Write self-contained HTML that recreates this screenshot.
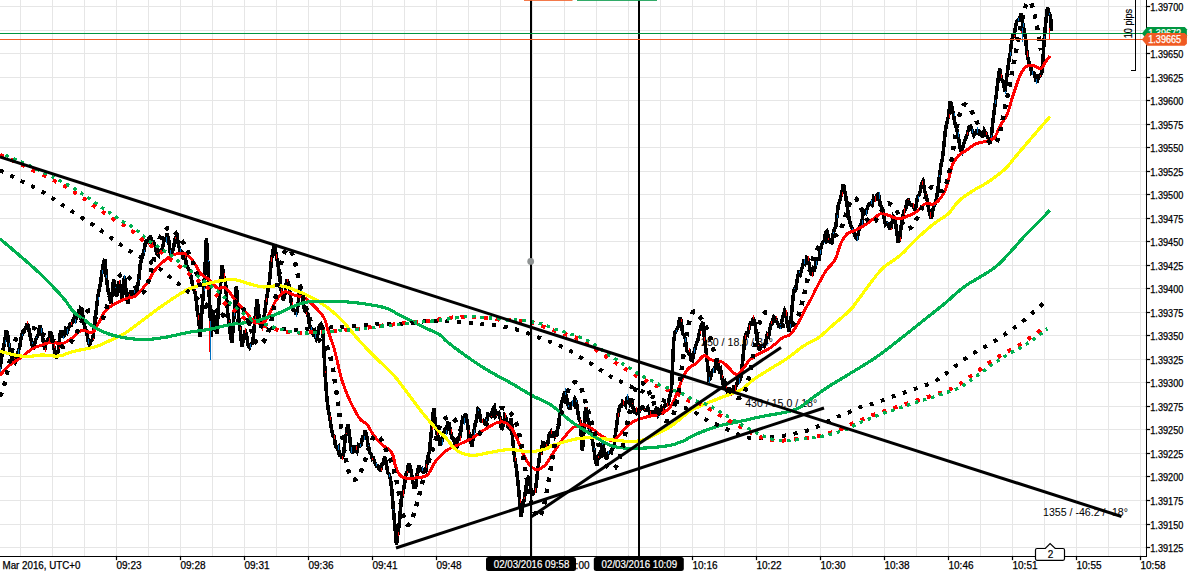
<!DOCTYPE html>
<html><head><meta charset="utf-8"><title>Chart</title>
<style>html,body{margin:0;padding:0;background:#fff;overflow:hidden}svg{display:block}</style>
</head><body>
<svg width="1192" height="572" viewBox="0 0 1192 572">
<rect width="1192" height="572" fill="#fff"/>
<g stroke="#e6e6e6" stroke-width="1" shape-rendering="crispEdges"><line x1="20.5" y1="0" x2="20.5" y2="556"/><line x1="52.5" y1="0" x2="52.5" y2="556"/><line x1="84.5" y1="0" x2="84.5" y2="556"/><line x1="116.5" y1="0" x2="116.5" y2="556"/><line x1="148.5" y1="0" x2="148.5" y2="556"/><line x1="180.5" y1="0" x2="180.5" y2="556"/><line x1="212.5" y1="0" x2="212.5" y2="556"/><line x1="244.5" y1="0" x2="244.5" y2="556"/><line x1="276.5" y1="0" x2="276.5" y2="556"/><line x1="308.5" y1="0" x2="308.5" y2="556"/><line x1="340.5" y1="0" x2="340.5" y2="556"/><line x1="372.5" y1="0" x2="372.5" y2="556"/><line x1="404.5" y1="0" x2="404.5" y2="556"/><line x1="436.5" y1="0" x2="436.5" y2="556"/><line x1="468.5" y1="0" x2="468.5" y2="556"/><line x1="500.5" y1="0" x2="500.5" y2="556"/><line x1="532.5" y1="0" x2="532.5" y2="556"/><line x1="564.5" y1="0" x2="564.5" y2="556"/><line x1="596.5" y1="0" x2="596.5" y2="556"/><line x1="628.5" y1="0" x2="628.5" y2="556"/><line x1="660.5" y1="0" x2="660.5" y2="556"/><line x1="692.5" y1="0" x2="692.5" y2="556"/><line x1="724.5" y1="0" x2="724.5" y2="556"/><line x1="756.5" y1="0" x2="756.5" y2="556"/><line x1="788.5" y1="0" x2="788.5" y2="556"/><line x1="820.5" y1="0" x2="820.5" y2="556"/><line x1="852.5" y1="0" x2="852.5" y2="556"/><line x1="884.5" y1="0" x2="884.5" y2="556"/><line x1="916.5" y1="0" x2="916.5" y2="556"/><line x1="948.5" y1="0" x2="948.5" y2="556"/><line x1="980.5" y1="0" x2="980.5" y2="556"/><line x1="1012.5" y1="0" x2="1012.5" y2="556"/><line x1="1044.5" y1="0" x2="1044.5" y2="556"/><line x1="1076.5" y1="0" x2="1076.5" y2="556"/><line x1="1108.5" y1="0" x2="1108.5" y2="556"/><line x1="1140.5" y1="0" x2="1140.5" y2="556"/><line x1="0" y1="6.5" x2="1146" y2="6.5"/><line x1="0" y1="30.5" x2="1146" y2="30.5"/><line x1="0" y1="53.5" x2="1146" y2="53.5"/><line x1="0" y1="77.5" x2="1146" y2="77.5"/><line x1="0" y1="100.5" x2="1146" y2="100.5"/><line x1="0" y1="124.5" x2="1146" y2="124.5"/><line x1="0" y1="147.5" x2="1146" y2="147.5"/><line x1="0" y1="171.5" x2="1146" y2="171.5"/><line x1="0" y1="194.5" x2="1146" y2="194.5"/><line x1="0" y1="218.5" x2="1146" y2="218.5"/><line x1="0" y1="241.5" x2="1146" y2="241.5"/><line x1="0" y1="265.5" x2="1146" y2="265.5"/><line x1="0" y1="288.5" x2="1146" y2="288.5"/><line x1="0" y1="312.5" x2="1146" y2="312.5"/><line x1="0" y1="335.5" x2="1146" y2="335.5"/><line x1="0" y1="359.5" x2="1146" y2="359.5"/><line x1="0" y1="382.5" x2="1146" y2="382.5"/><line x1="0" y1="406.5" x2="1146" y2="406.5"/><line x1="0" y1="429.5" x2="1146" y2="429.5"/><line x1="0" y1="453.5" x2="1146" y2="453.5"/><line x1="0" y1="476.5" x2="1146" y2="476.5"/><line x1="0" y1="500.5" x2="1146" y2="500.5"/><line x1="0" y1="524.5" x2="1146" y2="524.5"/><line x1="0" y1="547.5" x2="1146" y2="547.5"/></g>
<g font-family="'Liberation Sans', sans-serif" font-size="10.6" fill="#000">
<text x="701" y="345.7">250 / 18.0 / 34°</text>
<text x="745.2" y="406.8">430 / 15.0 / 18°</text>
<text x="1043" y="515.5">1355 / -46.2 / -18°</text>
</g>
<g fill="none" stroke-linejoin="round" shape-rendering="crispEdges">
<path d="M0.0 369.0 L1.5 357.6 L3.0 350.0 L4.7 341.5 L6.3 330.4 L7.7 334.7 L9.0 345.0 L10.8 353.9 L12.6 360.8 L14.0 357.9 L15.4 362.3 L16.8 360.0 L18.2 351.6 L19.6 347.7 L21.0 337.8 L22.5 333.0 L24.0 330.0 L25.6 328.8 L27.3 323.0 L28.6 328.0 L30.0 335.0 L31.8 343.6 L33.6 350.0 L35.0 341.8 L36.5 338.0 L38.1 335.1 L39.8 325.0 L41.1 329.8 L42.5 337.0 L43.8 345.1 L45.0 350.0 L46.2 342.1 L47.5 340.0 L48.9 339.8 L50.3 331.5 L51.9 335.5 L53.5 345.0 L55.0 354.0 L56.6 358.7 L58.7 348.0 L60.0 334.0 L61.3 330.5 L62.7 336.3 L64.0 336.0 L65.6 329.5 L67.1 332.3 L68.7 327.8 L70.0 324.6 L71.2 325.1 L72.5 322.0 L73.8 318.4 L75.1 322.1 L76.4 316.8 L77.8 313.4 L79.2 315.7 L80.5 308.0 L81.9 309.0 L83.5 320.5 L85.0 327.8 L86.5 330.9 L88.0 340.3 L89.5 345.0 L91.2 340.8 L92.8 338.7 L94.4 327.1 L96.0 312.5 L97.7 297.3 L99.4 288.4 L100.7 282.5 L102.0 272.0 L103.4 263.6 L104.8 258.9 L106.4 277.5 L108.0 290.6 L109.3 294.8 L110.7 303.7 L112.2 293.5 L113.6 279.7 L115.0 284.8 L116.4 297.0 L117.7 292.1 L119.0 280.8 L120.7 288.4 L122.3 299.3 L124.5 276.4 L126.2 292.8 L127.8 303.7 L129.4 294.6 L131.0 290.6 L132.5 295.8 L133.9 290.3 L135.4 295.0 L137.1 289.1 L138.7 279.7 L140.3 264.6 L142.0 257.8 L143.7 251.9 L145.3 243.6 L146.7 239.7 L148.0 243.7 L149.3 237.3 L150.7 237.0 L152.1 242.4 L153.6 241.9 L155.0 245.8 L156.7 253.8 L158.4 255.6 L159.9 249.3 L161.3 252.5 L162.8 246.9 L164.2 238.7 L165.6 240.0 L167.0 233.7 L168.7 240.4 L170.4 253.4 L172.1 253.0 L173.7 246.9 L175.3 238.6 L177.0 235.9 L178.7 245.9 L180.3 251.2 L181.9 251.9 L183.5 260.0 L185.0 255.0 L186.5 265.5 L188.0 268.0 L189.8 271.4 L191.6 279.7 L193.1 288.5 L194.5 290.2 L196.0 297.0 L197.2 310.7 L198.5 318.0 L200.3 336.5 L201.9 310.5 L203.6 290.6 L205.0 268.5 L206.4 238.0 L207.7 260.7 L209.0 290.6 L211.2 336.5 L213.4 312.5 L215.1 325.0 L216.7 334.0 L218.3 310.2 L220.0 290.6 L222.2 265.5 L223.8 276.8 L225.5 281.9 L227.6 312.5 L229.1 321.8 L230.5 335.2 L232.0 343.0 L234.2 312.5 L236.4 286.0 L238.6 316.8 L240.2 330.2 L241.9 346.4 L243.4 339.4 L245.0 330.0 L246.5 334.8 L248.0 345.1 L249.5 347.5 L251.2 344.0 L252.8 343.0 L255.0 319.0 L257.2 299.3 L259.4 321.2 L261.5 327.8 L263.1 321.8 L264.8 312.5 L266.4 299.4 L268.0 290.6 L269.7 279.1 L271.4 260.0 L273.0 251.0 L274.7 244.2 L276.4 256.6 L278.0 264.4 L279.6 274.8 L281.2 290.6 L283.4 300.4 L285.0 293.9 L286.7 279.7 L288.4 282.7 L290.0 292.8 L291.6 305.3 L293.2 310.3 L294.9 310.8 L296.5 314.7 L298.1 303.8 L299.8 288.4 L301.4 292.9 L303.0 301.5 L304.7 310.8 L306.4 312.5 L307.8 313.5 L309.3 324.0 L310.7 327.8 L312.1 329.1 L313.4 334.8 L314.8 334.4 L316.2 338.7 L317.9 334.6 L319.5 325.6 L321.1 323.9 L322.8 327.8 L325.0 372.0 L327.0 400.0 L328.5 411.2 L329.9 418.1 L331.4 428.4 L332.8 435.5 L334.1 436.1 L335.5 445.8 L336.9 448.0 L338.2 446.7 L339.6 456.6 L340.9 453.7 L342.3 459.0 L343.7 453.1 L345.1 438.4 L346.4 433.7 L347.8 424.0 L349.4 433.3 L351.0 450.3 L352.5 453.4 L354.0 445.8 L355.5 449.2 L356.9 451.6 L358.4 444.9 L359.8 446.0 L361.2 444.3 L362.6 437.1 L363.9 437.4 L365.3 430.6 L366.8 436.9 L368.2 446.2 L369.7 452.5 L371.0 453.7 L372.4 459.3 L373.7 458.7 L375.0 463.4 L376.4 466.0 L377.8 465.9 L379.2 469.7 L380.6 470.0 L381.9 464.5 L383.2 463.3 L384.5 456.9 L386.1 461.8 L387.7 472.3 L389.3 474.3 L390.6 480.2 L392.0 491.8 L393.4 509.7 L394.8 525.0 L396.5 545.0 L397.9 533.3 L399.2 525.0 L401.4 498.4 L403.0 492.7 L404.7 483.0 L406.0 474.4 L407.3 471.2 L408.6 463.4 L410.5 467.4 L412.3 478.7 L414.0 487.3 L415.6 487.5 L417.2 474.2 L418.9 465.6 L420.3 470.2 L421.8 468.9 L423.2 472.2 L425.0 471.5 L426.5 466.1 L427.9 456.5 L429.4 451.9 L431.5 430.0 L433.7 408.0 L435.4 422.9 L437.0 434.4 L438.6 436.2 L440.3 445.3 L441.8 441.5 L443.2 434.2 L444.7 430.0 L446.1 431.8 L447.6 423.0 L449.0 423.4 L450.6 432.3 L452.3 438.7 L453.8 439.0 L455.2 445.5 L456.7 447.5 L458.1 438.3 L459.6 438.5 L461.0 427.8 L462.5 419.3 L464.0 421.5 L465.5 413.6 L467.1 421.2 L468.7 432.2 L470.4 441.3 L472.0 446.4 L473.6 433.5 L475.3 423.4 L476.6 419.7 L478.0 409.2 L479.3 410.6 L480.6 420.6 L481.9 421.2 L483.4 420.4 L485.0 423.4 L486.5 422.1 L488.0 414.0 L489.5 414.7 L491.1 416.1 L492.8 409.2 L494.3 407.0 L495.7 415.7 L497.2 413.6 L498.8 412.7 L500.4 419.0 L501.5 430.0 L503.1 426.2 L504.8 415.8 L506.3 418.2 L507.7 426.4 L509.2 427.8 L511.4 418.0 L512.5 438.7 L514.7 458.4 L516.4 468.4 L518.0 482.5 L519.6 500.3 L521.2 516.4 L522.9 506.2 L524.5 497.8 L526.7 482.5 L528.9 475.9 L530.5 487.5 L532.2 495.6 L533.8 491.7 L535.4 491.2 L537.6 471.5 L539.8 454.0 L541.3 453.5 L542.7 442.6 L544.2 443.0 L545.9 446.5 L547.5 445.3 L549.1 434.8 L550.7 432.2 L552.1 437.8 L553.6 431.0 L555.0 436.5 L556.7 433.1 L558.4 425.6 L560.0 412.1 L561.7 401.6 L563.2 398.1 L564.6 391.5 L565.8 394.3 L567.0 400.0 L568.4 406.2 L569.8 409.4 L571.1 403.3 L572.5 403.0 L573.8 404.8 L575.0 398.9 L576.2 400.8 L577.5 410.0 L578.9 418.4 L580.3 422.0 L582.4 451.0 L584.0 430.0 L585.6 407.0 L586.8 410.5 L588.0 420.0 L589.4 429.7 L590.8 432.4 L592.4 440.1 L594.0 450.0 L595.5 461.0 L597.0 466.0 L598.2 456.1 L599.5 454.0 L601.0 451.9 L602.4 442.9 L604.5 452.0 L606.6 459.7 L608.3 452.5 L610.0 452.0 L611.3 452.8 L612.6 447.3 L613.9 447.0 L616.0 430.0 L618.0 415.0 L620.0 405.0 L621.3 407.8 L622.7 401.7 L624.0 403.0 L625.5 405.5 L627.1 396.9 L628.6 400.0 L630.1 404.5 L631.5 402.5 L633.0 407.0 L634.3 413.2 L635.7 408.1 L637.0 413.6 L638.5 413.2 L640.0 410.0 L641.5 407.3 L643.0 407.0 L644.5 409.8 L646.0 410.0 L647.8 407.4 L649.5 412.5 L650.9 415.7 L652.2 410.5 L653.6 415.0 L655.0 411.0 L656.7 407.0 L658.3 414.4 L660.0 411.5 L661.3 408.0 L662.7 411.2 L664.0 407.0 L665.5 404.4 L666.9 405.2 L668.4 403.0 L670.0 395.0 L671.5 390.0 L673.6 342.0 L675.0 331.9 L676.5 330.0 L678.1 326.9 L679.8 317.8 L681.2 320.9 L682.6 333.2 L684.0 335.0 L685.3 338.5 L686.7 350.4 L688.0 352.4 L689.5 351.6 L690.9 359.5 L692.4 360.8 L694.2 351.2 L696.0 345.0 L697.8 340.3 L699.5 332.0 L701.2 325.4 L703.0 322.0 L704.5 338.8 L706.0 350.0 L707.5 363.2 L709.0 379.7 L710.3 378.7 L711.7 372.0 L713.0 370.0 L714.5 370.8 L716.1 361.9 L717.6 360.8 L718.9 367.9 L720.2 367.5 L721.5 375.0 L723.0 383.2 L724.5 381.4 L726.0 388.0 L727.6 393.0 L729.1 387.6 L730.7 393.8 L732.3 392.3 L733.7 387.3 L735.1 388.3 L736.5 385.0 L737.9 380.2 L739.3 381.5 L740.7 377.6 L742.8 360.0 L744.9 337.8 L746.3 333.7 L747.6 334.8 L749.0 328.0 L750.4 323.2 L751.9 323.6 L753.3 317.8 L754.9 323.1 L756.5 335.0 L758.0 345.2 L759.5 350.0 L761.0 346.1 L762.5 346.0 L764.1 346.6 L765.8 342.0 L767.2 334.6 L768.6 336.1 L770.0 328.0 L771.3 323.1 L772.7 323.2 L774.0 316.8 L775.5 317.8 L777.0 322.0 L778.8 326.2 L780.5 327.0 L782.5 318.0 L784.7 310.5 L785.9 312.8 L787.0 322.0 L789.0 331.5 L790.2 325.8 L791.5 315.0 L793.0 297.4 L794.3 289.1 L795.7 289.7 L797.0 280.7 L798.7 272.6 L800.3 274.5 L802.0 268.0 L803.6 261.7 L805.1 263.6 L806.7 257.6 L808.1 259.3 L809.5 266.0 L810.8 273.4 L812.0 274.4 L813.3 268.3 L814.7 269.4 L816.0 263.0 L817.3 257.4 L818.7 260.6 L820.0 253.4 L821.5 244.5 L823.0 242.0 L824.3 241.0 L825.6 232.4 L827.0 231.2 L828.5 238.0 L830.2 242.2 L831.9 243.0 L833.2 233.3 L834.5 229.0 L835.8 226.4 L837.0 215.7 L838.5 204.2 L840.0 200.0 L841.7 193.3 L843.4 184.0 L845.2 193.3 L847.0 205.0 L848.9 217.8 L850.7 226.0 L852.4 228.5 L854.0 233.0 L855.5 237.5 L857.0 238.7 L858.8 230.8 L860.5 225.0 L861.8 223.6 L863.1 212.5 L864.4 211.5 L866.0 213.1 L867.5 207.0 L869.1 203.7 L870.7 203.0 L872.1 204.9 L873.6 197.3 L875.0 199.0 L876.3 199.2 L877.7 193.0 L879.0 195.7 L880.2 205.4 L881.5 207.0 L882.8 210.9 L884.0 217.8 L885.5 224.4 L887.0 223.0 L888.2 223.3 L889.5 228.0 L890.8 228.0 L892.0 223.0 L893.4 216.2 L894.8 217.8 L896.5 230.0 L898.4 243.0 L899.7 238.6 L901.0 227.0 L902.5 217.9 L904.0 211.5 L905.5 209.9 L906.9 201.3 L908.4 200.0 L910.0 204.5 L911.5 205.0 L913.1 205.7 L914.7 209.4 L916.1 206.5 L917.6 196.5 L919.0 195.0 L920.3 191.2 L921.7 183.0 L923.0 181.0 L924.5 190.3 L926.0 195.0 L927.2 200.6 L928.5 208.0 L930.0 215.3 L931.5 218.8 L933.0 209.0 L934.5 205.0 L936.1 200.3 L937.8 190.5 L939.4 176.7 L941.0 165.0 L942.5 158.6 L944.0 144.0 L945.5 129.5 L947.0 122.0 L948.6 115.6 L950.3 101.0 L951.9 106.8 L953.5 115.0 L955.0 123.7 L956.6 129.0 L957.8 134.1 L959.0 141.0 L960.5 149.9 L961.9 152.0 L963.7 143.8 L965.5 139.0 L967.2 134.2 L969.0 127.0 L970.5 126.3 L972.0 130.0 L973.8 135.6 L975.5 133.4 L976.9 129.7 L978.2 134.9 L979.6 131.8 L981.0 133.0 L982.7 137.1 L984.3 130.5 L986.0 133.4 L988.0 138.0 L990.0 144.0 L991.2 137.7 L992.5 125.0 L994.0 112.4 L995.4 102.0 L997.5 85.0 L999.6 68.4 L1000.8 75.2 L1002.0 80.0 L1003.5 82.6 L1004.9 91.5 L1007.0 75.0 L1009.0 60.0 L1010.3 53.0 L1011.6 41.5 L1012.9 35.9 L1014.1 36.3 L1015.4 27.7 L1016.7 20.9 L1018.0 20.0 L1019.5 20.1 L1021.0 13.2 L1023.0 25.0 L1024.2 30.3 L1025.4 37.7 L1027.2 54.1 L1029.0 63.0 L1030.3 65.3 L1031.7 73.4 L1033.0 73.0 L1034.5 73.3 L1035.9 80.3 L1037.4 81.0 L1038.7 75.8 L1040.0 76.0 L1041.8 72.0 L1043.0 58.8 L1044.3 37.7 L1045.9 20.9 L1047.5 7.5 L1049.0 13.2 L1050.6 16.4 L1051.2 30.8" stroke="#000" stroke-width="3.6" stroke-linejoin="miter" stroke-miterlimit="3"/>
<g stroke-width="1" shape-rendering="crispEdges"><line x1="0.5" y1="367.0" x2="0.5" y2="372.2" stroke="#0070c0"/><line x1="5.5" y1="339.7" x2="5.5" y2="343.6" stroke="#0070c0"/><line x1="9.5" y1="343.2" x2="9.5" y2="347.2" stroke="#0070c0"/><line x1="14.5" y1="357.6" x2="14.5" y2="359.0" stroke="#ff0000"/><line x1="18.5" y1="348.8" x2="18.5" y2="354.0" stroke="#0070c0"/><line x1="22.5" y1="329.5" x2="22.5" y2="336.3" stroke="#0070c0"/><line x1="27.5" y1="320.8" x2="27.5" y2="323.6" stroke="#ff0000"/><line x1="32.5" y1="341.8" x2="32.5" y2="343.8" stroke="#0070c0"/><line x1="36.5" y1="337.2" x2="36.5" y2="338.1" stroke="#0070c0"/><line x1="41.5" y1="328.2" x2="41.5" y2="332.7" stroke="#0070c0"/><line x1="45.5" y1="347.8" x2="45.5" y2="351.7" stroke="#ff0000"/><line x1="49.5" y1="338.2" x2="49.5" y2="340.7" stroke="#ff0000"/><line x1="54.5" y1="341.5" x2="54.5" y2="347.9" stroke="#ff0000"/><line x1="59.5" y1="346.9" x2="59.5" y2="348.8" stroke="#ff0000"/><line x1="63.5" y1="336.0" x2="63.5" y2="339.0" stroke="#0070c0"/><line x1="67.5" y1="329.4" x2="67.5" y2="333.7" stroke="#0070c0"/><line x1="71.5" y1="322.2" x2="71.5" y2="325.1" stroke="#ff0000"/><line x1="75.5" y1="318.9" x2="75.5" y2="323.8" stroke="#0070c0"/><line x1="79.5" y1="314.3" x2="79.5" y2="315.9" stroke="#ff0000"/><line x1="83.5" y1="317.7" x2="83.5" y2="321.4" stroke="#ff0000"/><line x1="88.5" y1="339.1" x2="88.5" y2="343.7" stroke="#0070c0"/><line x1="93.5" y1="338.3" x2="93.5" y2="339.6" stroke="#ff0000"/><line x1="98.5" y1="297.1" x2="98.5" y2="300.1" stroke="#0070c0"/><line x1="102.5" y1="270.0" x2="102.5" y2="273.6" stroke="#0070c0"/><line x1="106.5" y1="275.0" x2="106.5" y2="278.0" stroke="#0070c0"/><line x1="111.5" y1="303.3" x2="111.5" y2="305.2" stroke="#ff0000"/><line x1="115.5" y1="283.9" x2="115.5" y2="288.2" stroke="#0070c0"/><line x1="119.5" y1="279.7" x2="119.5" y2="283.9" stroke="#ff0000"/><line x1="124.5" y1="275.0" x2="124.5" y2="279.4" stroke="#0070c0"/><line x1="129.5" y1="294.2" x2="129.5" y2="298.0" stroke="#ff0000"/><line x1="134.5" y1="289.3" x2="134.5" y2="293.0" stroke="#0070c0"/><line x1="139.5" y1="278.7" x2="139.5" y2="280.0" stroke="#0070c0"/><line x1="144.5" y1="249.9" x2="144.5" y2="252.8" stroke="#0070c0"/><line x1="148.5" y1="242.4" x2="148.5" y2="245.3" stroke="#ff0000"/><line x1="152.5" y1="240.7" x2="152.5" y2="244.4" stroke="#ff0000"/><line x1="157.5" y1="253.1" x2="157.5" y2="254.3" stroke="#ff0000"/><line x1="161.5" y1="249.7" x2="161.5" y2="253.4" stroke="#ff0000"/><line x1="166.5" y1="237.4" x2="166.5" y2="243.3" stroke="#0070c0"/><line x1="170.5" y1="250.1" x2="170.5" y2="256.5" stroke="#0070c0"/><line x1="175.5" y1="237.2" x2="175.5" y2="239.0" stroke="#ff0000"/><line x1="180.5" y1="247.8" x2="180.5" y2="252.0" stroke="#0070c0"/><line x1="185.5" y1="254.1" x2="185.5" y2="257.9" stroke="#ff0000"/><line x1="190.5" y1="270.4" x2="190.5" y2="272.1" stroke="#ff0000"/><line x1="195.5" y1="290.0" x2="195.5" y2="291.0" stroke="#ff0000"/><line x1="198.5" y1="315.0" x2="198.5" y2="320.2" stroke="#ff0000"/><line x1="204.5" y1="287.4" x2="204.5" y2="291.3" stroke="#0070c0"/><line x1="208.5" y1="259.8" x2="208.5" y2="262.3" stroke="#0070c0"/><line x1="213.5" y1="311.9" x2="213.5" y2="313.8" stroke="#0070c0"/><line x1="218.5" y1="309.7" x2="218.5" y2="311.5" stroke="#ff0000"/><line x1="224.5" y1="273.3" x2="224.5" y2="279.1" stroke="#ff0000"/><line x1="229.5" y1="319.7" x2="229.5" y2="322.3" stroke="#ff0000"/><line x1="234.5" y1="312.4" x2="234.5" y2="315.7" stroke="#0070c0"/><line x1="240.5" y1="326.9" x2="240.5" y2="330.3" stroke="#ff0000"/><line x1="245.5" y1="328.3" x2="245.5" y2="332.6" stroke="#ff0000"/><line x1="250.5" y1="344.0" x2="250.5" y2="347.8" stroke="#0070c0"/><line x1="255.5" y1="316.4" x2="255.5" y2="322.2" stroke="#ff0000"/><line x1="262.5" y1="325.3" x2="262.5" y2="330.6" stroke="#ff0000"/><line x1="266.5" y1="298.2" x2="266.5" y2="301.8" stroke="#ff0000"/><line x1="271.5" y1="257.0" x2="271.5" y2="261.5" stroke="#ff0000"/><line x1="276.5" y1="253.6" x2="276.5" y2="258.6" stroke="#ff0000"/><line x1="281.5" y1="289.3" x2="281.5" y2="292.6" stroke="#ff0000"/><line x1="287.5" y1="279.4" x2="287.5" y2="281.9" stroke="#ff0000"/><line x1="292.5" y1="302.2" x2="292.5" y2="307.8" stroke="#ff0000"/><line x1="296.5" y1="312.1" x2="296.5" y2="316.7" stroke="#0070c0"/><line x1="301.5" y1="290.0" x2="301.5" y2="293.2" stroke="#0070c0"/><line x1="306.5" y1="312.4" x2="306.5" y2="314.6" stroke="#ff0000"/><line x1="311.5" y1="327.0" x2="311.5" y2="330.2" stroke="#0070c0"/><line x1="315.5" y1="332.2" x2="315.5" y2="337.6" stroke="#0070c0"/><line x1="320.5" y1="325.6" x2="320.5" y2="326.7" stroke="#0070c0"/><line x1="325.5" y1="371.3" x2="325.5" y2="372.6" stroke="#ff0000"/><line x1="330.5" y1="415.8" x2="330.5" y2="419.7" stroke="#ff0000"/><line x1="334.5" y1="435.0" x2="334.5" y2="438.5" stroke="#ff0000"/><line x1="338.5" y1="445.2" x2="338.5" y2="449.5" stroke="#0070c0"/><line x1="342.5" y1="455.9" x2="342.5" y2="460.3" stroke="#ff0000"/><line x1="346.5" y1="432.6" x2="346.5" y2="434.2" stroke="#ff0000"/><line x1="351.5" y1="447.4" x2="351.5" y2="453.3" stroke="#0070c0"/><line x1="356.5" y1="445.9" x2="356.5" y2="450.2" stroke="#ff0000"/><line x1="360.5" y1="444.4" x2="360.5" y2="447.0" stroke="#0070c0"/><line x1="364.5" y1="436.0" x2="364.5" y2="439.6" stroke="#0070c0"/><line x1="368.5" y1="445.1" x2="368.5" y2="449.2" stroke="#0070c0"/><line x1="372.5" y1="457.7" x2="372.5" y2="459.6" stroke="#ff0000"/><line x1="376.5" y1="463.0" x2="376.5" y2="466.2" stroke="#0070c0"/><line x1="381.5" y1="468.0" x2="381.5" y2="471.1" stroke="#ff0000"/><line x1="384.5" y1="456.8" x2="384.5" y2="457.4" stroke="#ff0000"/><line x1="389.5" y1="474.2" x2="389.5" y2="477.2" stroke="#0070c0"/><line x1="393.5" y1="509.2" x2="393.5" y2="509.9" stroke="#0070c0"/><line x1="398.5" y1="531.8" x2="398.5" y2="535.5" stroke="#ff0000"/><line x1="403.5" y1="489.9" x2="403.5" y2="496.0" stroke="#ff0000"/><line x1="407.5" y1="470.5" x2="407.5" y2="472.8" stroke="#ff0000"/><line x1="412.5" y1="478.7" x2="412.5" y2="480.4" stroke="#0070c0"/><line x1="417.5" y1="473.5" x2="417.5" y2="475.1" stroke="#ff0000"/><line x1="422.5" y1="466.5" x2="422.5" y2="470.7" stroke="#0070c0"/><line x1="426.5" y1="463.5" x2="426.5" y2="467.5" stroke="#ff0000"/><line x1="432.5" y1="426.8" x2="432.5" y2="430.3" stroke="#ff0000"/><line x1="437.5" y1="431.9" x2="437.5" y2="434.9" stroke="#ff0000"/><line x1="442.5" y1="439.4" x2="442.5" y2="444.7" stroke="#0070c0"/><line x1="446.5" y1="429.8" x2="446.5" y2="434.9" stroke="#0070c0"/><line x1="451.5" y1="429.0" x2="451.5" y2="434.0" stroke="#ff0000"/><line x1="455.5" y1="444.7" x2="455.5" y2="448.0" stroke="#ff0000"/><line x1="460.5" y1="436.2" x2="460.5" y2="441.0" stroke="#ff0000"/><line x1="464.5" y1="418.4" x2="464.5" y2="424.9" stroke="#0070c0"/><line x1="469.5" y1="430.3" x2="469.5" y2="435.0" stroke="#ff0000"/><line x1="474.5" y1="430.3" x2="474.5" y2="436.5" stroke="#0070c0"/><line x1="478.5" y1="408.9" x2="478.5" y2="410.7" stroke="#0070c0"/><line x1="482.5" y1="418.5" x2="482.5" y2="422.9" stroke="#ff0000"/><line x1="486.5" y1="419.2" x2="486.5" y2="422.3" stroke="#0070c0"/><line x1="491.5" y1="415.5" x2="491.5" y2="417.3" stroke="#ff0000"/><line x1="496.5" y1="415.2" x2="496.5" y2="416.2" stroke="#ff0000"/><line x1="500.5" y1="416.5" x2="500.5" y2="421.9" stroke="#ff0000"/><line x1="505.5" y1="412.5" x2="505.5" y2="417.5" stroke="#ff0000"/><line x1="509.5" y1="427.5" x2="509.5" y2="428.6" stroke="#ff0000"/><line x1="515.5" y1="457.4" x2="515.5" y2="461.0" stroke="#ff0000"/><line x1="520.5" y1="498.5" x2="520.5" y2="503.3" stroke="#ff0000"/><line x1="524.5" y1="496.7" x2="524.5" y2="499.1" stroke="#ff0000"/><line x1="531.5" y1="484.3" x2="531.5" y2="488.2" stroke="#ff0000"/><line x1="535.5" y1="487.8" x2="535.5" y2="493.0" stroke="#ff0000"/><line x1="541.5" y1="452.8" x2="541.5" y2="455.4" stroke="#ff0000"/><line x1="546.5" y1="444.4" x2="546.5" y2="446.6" stroke="#ff0000"/><line x1="551.5" y1="430.4" x2="551.5" y2="433.6" stroke="#ff0000"/><line x1="555.5" y1="434.5" x2="555.5" y2="438.2" stroke="#ff0000"/><line x1="560.5" y1="411.8" x2="560.5" y2="413.9" stroke="#ff0000"/><line x1="565.5" y1="388.2" x2="565.5" y2="394.7" stroke="#0070c0"/><line x1="568.5" y1="404.5" x2="568.5" y2="406.6" stroke="#0070c0"/><line x1="572.5" y1="400.1" x2="572.5" y2="406.2" stroke="#0070c0"/><line x1="576.5" y1="399.7" x2="576.5" y2="401.5" stroke="#0070c0"/><line x1="580.5" y1="418.8" x2="580.5" y2="422.5" stroke="#ff0000"/><line x1="586.5" y1="406.9" x2="586.5" y2="407.7" stroke="#ff0000"/><line x1="589.5" y1="427.3" x2="589.5" y2="430.8" stroke="#0070c0"/><line x1="594.5" y1="447.8" x2="594.5" y2="450.4" stroke="#0070c0"/><line x1="598.5" y1="455.7" x2="598.5" y2="457.9" stroke="#ff0000"/><line x1="602.5" y1="442.2" x2="602.5" y2="444.8" stroke="#0070c0"/><line x1="608.5" y1="451.2" x2="608.5" y2="453.9" stroke="#0070c0"/><line x1="613.5" y1="446.7" x2="613.5" y2="448.0" stroke="#ff0000"/><line x1="618.5" y1="412.8" x2="618.5" y2="416.9" stroke="#ff0000"/><line x1="623.5" y1="399.6" x2="623.5" y2="404.7" stroke="#ff0000"/><line x1="627.5" y1="394.3" x2="627.5" y2="399.7" stroke="#0070c0"/><line x1="632.5" y1="401.4" x2="632.5" y2="403.6" stroke="#ff0000"/><line x1="636.5" y1="407.4" x2="636.5" y2="411.6" stroke="#ff0000"/><line x1="640.5" y1="409.5" x2="640.5" y2="410.8" stroke="#ff0000"/><line x1="644.5" y1="408.9" x2="644.5" y2="410.2" stroke="#ff0000"/><line x1="650.5" y1="411.0" x2="650.5" y2="415.3" stroke="#ff0000"/><line x1="654.5" y1="413.6" x2="654.5" y2="417.4" stroke="#0070c0"/><line x1="658.5" y1="413.7" x2="658.5" y2="416.8" stroke="#0070c0"/><line x1="663.5" y1="407.8" x2="663.5" y2="411.6" stroke="#ff0000"/><line x1="667.5" y1="402.5" x2="667.5" y2="406.9" stroke="#ff0000"/><line x1="672.5" y1="389.3" x2="672.5" y2="390.2" stroke="#ff0000"/><line x1="676.5" y1="329.9" x2="676.5" y2="331.9" stroke="#0070c0"/><line x1="681.5" y1="319.0" x2="681.5" y2="321.5" stroke="#ff0000"/><line x1="685.5" y1="337.8" x2="685.5" y2="341.5" stroke="#0070c0"/><line x1="689.5" y1="348.3" x2="689.5" y2="351.9" stroke="#ff0000"/><line x1="694.5" y1="347.9" x2="694.5" y2="352.9" stroke="#0070c0"/><line x1="700.5" y1="330.9" x2="700.5" y2="333.6" stroke="#ff0000"/><line x1="704.5" y1="337.3" x2="704.5" y2="340.9" stroke="#ff0000"/><line x1="709.5" y1="377.2" x2="709.5" y2="382.7" stroke="#0070c0"/><line x1="713.5" y1="368.4" x2="713.5" y2="372.6" stroke="#0070c0"/><line x1="718.5" y1="360.1" x2="718.5" y2="361.4" stroke="#0070c0"/><line x1="722.5" y1="374.9" x2="722.5" y2="378.1" stroke="#ff0000"/><line x1="726.5" y1="385.5" x2="726.5" y2="391.0" stroke="#ff0000"/><line x1="731.5" y1="392.4" x2="731.5" y2="395.9" stroke="#ff0000"/><line x1="735.5" y1="384.9" x2="735.5" y2="391.1" stroke="#ff0000"/><line x1="739.5" y1="378.3" x2="739.5" y2="384.1" stroke="#0070c0"/><line x1="745.5" y1="334.9" x2="745.5" y2="339.2" stroke="#ff0000"/><line x1="749.5" y1="324.9" x2="749.5" y2="330.4" stroke="#ff0000"/><line x1="753.5" y1="315.1" x2="753.5" y2="319.2" stroke="#ff0000"/><line x1="758.5" y1="344.9" x2="758.5" y2="346.4" stroke="#ff0000"/><line x1="762.5" y1="346.0" x2="762.5" y2="347.2" stroke="#0070c0"/><line x1="767.5" y1="332.5" x2="767.5" y2="335.5" stroke="#ff0000"/><line x1="771.5" y1="320.8" x2="771.5" y2="324.3" stroke="#ff0000"/><line x1="776.5" y1="315.8" x2="776.5" y2="319.6" stroke="#ff0000"/><line x1="780.5" y1="323.5" x2="780.5" y2="329.2" stroke="#0070c0"/><line x1="786.5" y1="310.2" x2="786.5" y2="316.3" stroke="#ff0000"/><line x1="790.5" y1="323.6" x2="790.5" y2="328.4" stroke="#0070c0"/><line x1="794.5" y1="287.7" x2="794.5" y2="289.3" stroke="#0070c0"/><line x1="799.5" y1="271.2" x2="799.5" y2="272.9" stroke="#0070c0"/><line x1="804.5" y1="258.5" x2="804.5" y2="263.6" stroke="#0070c0"/><line x1="808.5" y1="255.9" x2="808.5" y2="261.2" stroke="#ff0000"/><line x1="812.5" y1="272.2" x2="812.5" y2="277.2" stroke="#ff0000"/><line x1="816.5" y1="260.9" x2="816.5" y2="265.7" stroke="#0070c0"/><line x1="820.5" y1="250.1" x2="820.5" y2="254.0" stroke="#0070c0"/><line x1="824.5" y1="240.4" x2="824.5" y2="242.7" stroke="#0070c0"/><line x1="828.5" y1="237.8" x2="828.5" y2="241.3" stroke="#ff0000"/><line x1="833.5" y1="231.5" x2="833.5" y2="235.4" stroke="#0070c0"/><line x1="837.5" y1="214.7" x2="837.5" y2="218.0" stroke="#0070c0"/><line x1="842.5" y1="192.3" x2="842.5" y2="195.8" stroke="#ff0000"/><line x1="847.5" y1="205.0" x2="847.5" y2="205.9" stroke="#0070c0"/><line x1="852.5" y1="227.9" x2="852.5" y2="231.1" stroke="#0070c0"/><line x1="857.5" y1="235.6" x2="857.5" y2="241.3" stroke="#0070c0"/><line x1="862.5" y1="220.1" x2="862.5" y2="226.9" stroke="#0070c0"/><line x1="866.5" y1="209.9" x2="866.5" y2="214.6" stroke="#0070c0"/><line x1="871.5" y1="199.6" x2="871.5" y2="203.9" stroke="#0070c0"/><line x1="875.5" y1="195.7" x2="875.5" y2="201.5" stroke="#ff0000"/><line x1="879.5" y1="192.3" x2="879.5" y2="198.6" stroke="#0070c0"/><line x1="883.5" y1="210.5" x2="883.5" y2="213.0" stroke="#ff0000"/><line x1="887.5" y1="222.3" x2="887.5" y2="223.2" stroke="#0070c0"/><line x1="891.5" y1="227.5" x2="891.5" y2="229.5" stroke="#ff0000"/><line x1="895.5" y1="216.2" x2="895.5" y2="218.7" stroke="#ff0000"/><line x1="900.5" y1="237.2" x2="900.5" y2="241.4" stroke="#ff0000"/><line x1="904.5" y1="208.0" x2="904.5" y2="214.8" stroke="#ff0000"/><line x1="908.5" y1="199.2" x2="908.5" y2="200.4" stroke="#ff0000"/><line x1="913.5" y1="203.0" x2="913.5" y2="207.9" stroke="#ff0000"/><line x1="918.5" y1="195.6" x2="918.5" y2="198.9" stroke="#0070c0"/><line x1="922.5" y1="180.9" x2="922.5" y2="185.2" stroke="#ff0000"/><line x1="926.5" y1="194.3" x2="926.5" y2="195.9" stroke="#ff0000"/><line x1="930.5" y1="212.1" x2="930.5" y2="218.4" stroke="#ff0000"/><line x1="934.5" y1="204.8" x2="934.5" y2="205.9" stroke="#0070c0"/><line x1="939.5" y1="174.5" x2="939.5" y2="177.1" stroke="#0070c0"/><line x1="944.5" y1="143.7" x2="944.5" y2="144.3" stroke="#ff0000"/><line x1="949.5" y1="113.7" x2="949.5" y2="117.8" stroke="#ff0000"/><line x1="954.5" y1="113.3" x2="954.5" y2="115.7" stroke="#0070c0"/><line x1="958.5" y1="131.5" x2="958.5" y2="137.0" stroke="#0070c0"/><line x1="962.5" y1="151.6" x2="962.5" y2="154.8" stroke="#0070c0"/><line x1="967.5" y1="131.5" x2="967.5" y2="135.0" stroke="#ff0000"/><line x1="972.5" y1="129.1" x2="972.5" y2="132.8" stroke="#0070c0"/><line x1="977.5" y1="127.4" x2="977.5" y2="133.2" stroke="#0070c0"/><line x1="981.5" y1="131.1" x2="981.5" y2="135.6" stroke="#0070c0"/><line x1="986.5" y1="131.9" x2="986.5" y2="134.7" stroke="#ff0000"/><line x1="991.5" y1="134.6" x2="991.5" y2="138.0" stroke="#0070c0"/><line x1="995.5" y1="100.0" x2="995.5" y2="103.7" stroke="#0070c0"/><line x1="1001.5" y1="74.1" x2="1001.5" y2="77.9" stroke="#ff0000"/><line x1="1005.5" y1="90.8" x2="1005.5" y2="93.8" stroke="#0070c0"/><line x1="1010.5" y1="51.9" x2="1010.5" y2="55.5" stroke="#0070c0"/><line x1="1014.5" y1="35.3" x2="1014.5" y2="36.8" stroke="#ff0000"/><line x1="1018.5" y1="17.5" x2="1018.5" y2="21.3" stroke="#0070c0"/><line x1="1023.5" y1="22.5" x2="1023.5" y2="27.0" stroke="#0070c0"/><line x1="1027.5" y1="50.8" x2="1027.5" y2="57.3" stroke="#ff0000"/><line x1="1032.5" y1="70.6" x2="1032.5" y2="74.5" stroke="#0070c0"/><line x1="1036.5" y1="78.9" x2="1036.5" y2="83.6" stroke="#0070c0"/><line x1="1040.5" y1="75.1" x2="1040.5" y2="77.3" stroke="#ff0000"/><line x1="1044.5" y1="36.4" x2="1044.5" y2="39.1" stroke="#0070c0"/><line x1="1049.5" y1="12.5" x2="1049.5" y2="15.2" stroke="#0070c0"/><line x1="210.5" y1="321.0" x2="210.5" y2="360.0" stroke="#0070c0"/><line x1="209.5" y1="321.0" x2="209.5" y2="352.0" stroke="#ff0000"/><line x1="1049.5" y1="28.0" x2="1049.5" y2="39.5" stroke="#ff0000"/><line x1="1022.5" y1="26.0" x2="1022.5" y2="42.0" stroke="#0070c0"/><line x1="1021.5" y1="26.0" x2="1021.5" y2="33.0" stroke="#ff0000"/></g>
<path d="M0.0 375.5 L1.1 374.1 L2.8 372.1 L4.6 369.9 L6.3 368.0 L7.8 366.6 L9.3 365.4 L10.9 364.2 L12.6 363.0 L14.5 361.8 L16.5 360.6 L18.7 359.2 L21.0 357.7 L22.6 356.4 L24.3 355.0 L26.1 353.4 L27.9 351.9 L29.7 350.5 L31.5 349.3 L33.6 348.2 L35.7 347.2 L37.8 346.4 L39.9 345.7 L42.0 345.0 L44.1 344.2 L46.3 343.5 L48.4 342.8 L50.4 342.3 L52.4 342.0 L54.6 342.3 L56.6 343.1 L58.6 343.9 L60.8 344.0 L62.8 343.5 L64.8 342.6 L67.0 341.5 L69.2 340.2 L71.3 338.8 L73.0 337.5 L74.8 335.8 L76.5 334.1 L78.3 332.5 L80.0 331.2 L81.8 330.4 L84.0 330.3 L86.2 331.0 L88.4 332.0 L90.5 332.7 L92.3 332.5 L93.8 331.4 L95.1 329.6 L96.3 327.5 L97.4 325.2 L98.6 323.0 L99.6 321.1 L100.6 319.1 L101.6 317.1 L102.7 315.0 L103.7 313.2 L104.9 311.5 L106.3 309.9 L107.8 308.5 L109.3 307.4 L111.0 306.2 L113.0 305.0 L114.6 304.1 L116.4 303.1 L118.4 302.1 L120.4 301.1 L122.4 300.2 L124.3 299.3 L126.0 298.6 L128.2 297.9 L130.2 297.6 L132.1 297.3 L134.0 296.7 L136.0 295.5 L137.3 294.4 L138.8 293.0 L140.2 291.5 L141.6 289.9 L143.1 288.1 L144.4 286.4 L145.8 284.7 L147.0 283.0 L148.3 281.2 L149.4 279.3 L150.4 277.4 L151.4 275.5 L152.4 273.7 L153.6 271.8 L155.0 270.0 L156.4 268.4 L158.0 266.7 L159.6 265.0 L161.4 263.3 L163.1 261.8 L164.8 260.3 L166.5 258.9 L168.0 257.8 L170.2 256.4 L172.3 255.3 L174.2 254.5 L176.1 254.0 L178.0 253.6 L180.3 253.3 L182.5 253.2 L184.6 253.6 L186.7 254.6 L188.1 255.7 L189.6 257.1 L191.0 258.7 L192.4 260.5 L193.8 262.3 L195.0 264.0 L196.3 266.0 L197.4 268.1 L198.5 270.3 L199.7 272.2 L201.0 274.0 L202.6 275.4 L204.3 276.6 L206.2 277.6 L208.0 278.7 L209.7 280.0 L211.3 281.6 L212.8 283.4 L214.3 285.3 L215.8 286.9 L217.3 288.0 L219.3 288.3 L221.4 287.8 L223.5 287.5 L225.6 288.0 L227.0 289.1 L228.3 290.6 L229.7 292.4 L231.0 294.4 L232.5 296.4 L234.0 298.4 L235.2 299.9 L236.5 301.4 L237.8 303.1 L239.1 304.7 L240.5 306.3 L241.8 307.9 L243.2 309.5 L244.5 311.0 L246.0 312.7 L247.6 314.4 L249.1 316.1 L250.6 317.8 L252.2 319.3 L253.6 320.5 L255.0 321.5 L257.3 322.7 L259.5 323.2 L261.5 323.2 L263.4 322.5 L264.8 321.3 L266.1 319.6 L267.3 317.5 L268.5 315.3 L269.7 313.0 L270.7 311.0 L271.7 308.9 L272.7 306.7 L273.7 304.5 L274.8 302.4 L276.0 300.5 L277.5 298.4 L279.1 296.2 L280.8 294.4 L282.6 292.9 L284.4 292.0 L286.4 291.9 L288.4 292.5 L290.6 293.4 L292.8 294.5 L294.9 295.3 L297.0 295.8 L299.1 296.3 L301.2 296.7 L303.3 297.4 L305.4 298.4 L306.9 299.4 L308.4 300.6 L310.0 301.9 L311.5 303.4 L313.0 304.9 L314.4 306.3 L315.8 307.8 L317.4 309.4 L318.9 311.1 L320.4 312.8 L321.8 314.5 L323.1 316.4 L324.2 318.3 L325.0 320.1 L325.7 321.9 L326.2 323.9 L326.8 325.9 L327.2 327.9 L327.8 330.0 L328.4 332.0 L329.1 334.0 L329.8 336.1 L330.6 338.2 L331.4 340.3 L332.2 342.4 L332.9 344.6 L333.6 346.8 L334.2 348.8 L334.7 350.9 L335.2 353.0 L335.8 355.1 L336.3 357.2 L336.8 359.4 L337.3 361.5 L337.8 363.6 L338.3 365.7 L338.8 367.8 L339.3 369.9 L339.8 372.0 L340.3 374.0 L340.8 376.1 L341.4 378.2 L342.0 380.3 L342.7 382.4 L343.4 384.6 L344.2 386.7 L345.0 388.9 L345.8 391.0 L346.6 393.1 L347.4 395.1 L348.2 397.0 L349.1 399.0 L350.0 401.0 L350.9 402.8 L351.8 404.6 L352.7 406.4 L353.6 408.0 L354.5 409.7 L355.6 411.6 L356.6 413.5 L357.7 415.4 L358.7 417.1 L359.8 418.7 L360.8 420.0 L362.9 421.7 L364.9 422.7 L367.0 424.4 L368.0 425.8 L369.0 427.5 L370.1 429.3 L371.1 431.3 L372.2 433.1 L373.4 434.9 L374.7 436.5 L376.0 438.1 L377.4 439.7 L378.8 441.3 L380.3 442.8 L381.8 444.3 L383.4 445.7 L385.2 447.0 L387.1 448.2 L388.8 449.5 L390.5 451.0 L391.8 452.8 L392.7 454.6 L393.4 456.7 L393.9 458.9 L394.4 461.2 L394.8 463.5 L395.3 465.6 L396.0 467.5 L397.0 469.9 L398.1 472.1 L399.2 474.1 L400.6 475.7 L402.3 477.0 L404.0 477.7 L406.0 478.1 L408.2 478.3 L410.5 478.3 L412.7 478.2 L414.9 478.0 L417.0 477.8 L419.2 477.6 L421.4 477.3 L423.5 476.8 L425.6 476.0 L427.4 474.8 L428.6 473.6 L429.7 472.0 L430.8 470.2 L431.7 468.3 L432.7 466.4 L433.6 464.5 L434.7 462.6 L435.8 461.0 L437.2 459.3 L438.6 457.7 L440.0 456.1 L441.5 454.7 L443.0 453.3 L444.6 451.9 L446.3 450.7 L448.0 449.6 L449.9 448.6 L451.8 447.7 L453.7 446.8 L455.6 446.0 L457.5 445.2 L459.4 444.3 L461.2 443.4 L463.0 442.6 L464.8 441.7 L466.6 440.8 L468.4 440.0 L470.2 439.0 L472.0 438.0 L473.8 436.9 L475.6 435.7 L477.4 434.5 L479.2 433.2 L481.0 432.0 L482.8 430.7 L484.6 429.6 L486.4 428.5 L488.3 427.3 L490.1 426.2 L492.0 425.1 L493.7 424.1 L495.4 423.3 L497.0 422.7 L499.5 422.1 L501.6 421.9 L503.6 422.1 L505.5 422.7 L507.2 423.6 L508.8 424.9 L510.3 426.5 L511.8 428.6 L512.9 430.3 L514.0 432.4 L515.1 434.6 L516.1 436.8 L517.1 439.0 L518.0 441.0 L518.9 443.1 L519.6 444.9 L520.2 446.8 L520.9 448.6 L521.8 450.7 L522.7 452.7 L523.6 454.8 L524.6 457.0 L525.7 459.2 L526.8 461.2 L528.0 463.0 L529.6 464.9 L531.2 466.6 L533.0 468.0 L534.8 469.1 L536.5 469.6 L538.7 469.4 L540.9 468.4 L543.0 466.9 L544.9 465.4 L546.4 463.9 L547.5 462.1 L548.6 460.2 L550.0 458.0 L551.1 456.4 L552.2 454.6 L553.4 452.7 L554.7 450.8 L556.0 448.9 L557.3 447.0 L558.4 445.4 L559.6 443.7 L560.8 442.0 L562.0 440.3 L563.2 438.7 L564.4 437.1 L565.6 435.6 L567.0 433.9 L568.3 432.3 L569.7 430.7 L571.0 429.3 L572.5 428.0 L574.0 427.0 L576.0 426.1 L578.1 425.4 L580.3 425.0 L582.5 424.9 L584.5 425.0 L586.8 425.6 L588.9 426.6 L590.9 427.9 L593.0 429.3 L594.6 430.4 L596.2 431.7 L597.8 433.1 L599.5 434.4 L601.3 435.6 L603.3 436.9 L605.5 438.2 L607.8 439.4 L609.9 440.4 L611.8 440.8 L614.1 440.3 L615.9 438.7 L618.0 436.6 L619.3 435.3 L620.7 433.7 L622.1 431.9 L623.6 430.1 L625.1 428.5 L626.5 427.0 L628.1 425.5 L629.7 424.2 L631.2 423.0 L633.0 421.9 L634.9 420.9 L636.7 420.1 L638.8 419.3 L640.9 418.6 L643.1 417.9 L645.3 417.3 L647.4 416.7 L649.5 416.2 L651.7 415.8 L653.9 415.5 L656.0 415.1 L658.1 414.6 L660.0 414.0 L662.1 413.1 L664.1 412.1 L666.0 411.0 L667.8 409.6 L669.4 408.0 L670.6 406.5 L671.7 404.8 L672.7 402.9 L673.7 400.9 L674.7 398.8 L675.7 396.5 L676.5 394.6 L677.3 392.5 L678.1 390.3 L678.9 388.0 L679.7 385.8 L680.4 383.6 L681.2 381.5 L682.0 379.7 L683.0 377.5 L683.9 375.5 L684.9 373.7 L685.8 372.0 L686.9 370.4 L688.0 369.0 L689.6 367.5 L691.3 366.3 L693.1 365.3 L694.9 364.2 L696.6 363.0 L698.2 361.4 L699.7 359.6 L701.1 357.8 L702.6 356.4 L704.0 355.6 L705.7 355.9 L707.3 357.1 L709.0 358.6 L711.0 359.8 L713.0 360.3 L715.3 360.6 L717.6 360.9 L719.9 361.3 L721.8 361.9 L723.6 362.9 L725.0 364.1 L726.4 365.5 L728.0 367.0 L729.6 368.6 L731.3 370.5 L733.1 372.3 L734.9 373.8 L736.5 374.5 L738.2 374.1 L739.8 372.7 L741.3 370.9 L742.8 369.0 L744.0 367.5 L745.2 365.8 L746.4 364.1 L747.6 362.4 L749.0 360.8 L750.5 359.4 L752.0 358.2 L753.6 356.9 L755.4 355.7 L757.4 354.5 L759.0 353.6 L760.7 352.8 L762.5 351.9 L764.4 351.1 L766.3 350.1 L768.2 349.1 L770.0 348.0 L771.6 346.9 L773.2 345.6 L774.9 344.2 L776.6 342.8 L778.2 341.3 L779.7 340.0 L781.2 338.8 L782.6 337.8 L785.0 336.5 L787.1 335.9 L789.0 335.1 L791.0 333.6 L792.2 332.2 L793.5 330.6 L794.7 328.8 L795.9 326.8 L797.2 324.8 L798.3 322.9 L799.4 321.0 L800.4 319.2 L801.4 317.3 L802.3 315.4 L803.2 313.6 L804.0 311.8 L804.9 310.0 L805.7 308.4 L806.8 306.4 L807.8 304.6 L808.8 302.9 L809.8 301.1 L811.0 299.0 L811.9 297.3 L812.8 295.4 L813.8 293.4 L814.8 291.3 L815.8 289.2 L816.9 287.1 L818.0 285.0 L819.0 283.1 L820.0 281.2 L821.1 279.2 L822.2 277.3 L823.3 275.3 L824.4 273.4 L825.5 271.7 L826.6 270.0 L828.0 268.1 L829.5 266.5 L831.0 265.0 L832.4 263.4 L833.7 261.7 L835.0 259.7 L835.9 257.9 L836.7 255.8 L837.4 253.6 L838.1 251.3 L838.8 249.0 L839.5 246.8 L840.2 244.8 L841.0 243.0 L842.3 240.5 L843.5 238.4 L844.8 236.5 L846.2 234.9 L847.6 233.5 L849.5 232.3 L851.6 231.5 L853.7 230.9 L856.0 230.0 L857.7 229.1 L859.4 228.2 L861.2 227.2 L863.1 226.1 L864.8 225.0 L866.5 224.0 L868.4 222.7 L870.1 221.4 L871.8 220.1 L873.4 218.9 L874.9 217.8 L877.0 216.0 L878.9 214.5 L881.0 213.6 L883.0 213.7 L885.1 214.2 L887.3 215.0 L889.5 215.7 L891.6 216.5 L893.7 217.5 L895.8 218.4 L897.9 218.8 L899.9 218.7 L901.8 218.3 L903.8 217.6 L906.0 216.7 L908.0 215.9 L910.3 215.0 L912.5 213.9 L914.8 212.7 L916.8 211.5 L918.6 210.0 L920.2 208.3 L921.8 206.6 L923.4 205.1 L925.0 204.0 L927.2 203.6 L929.4 203.8 L931.6 204.2 L933.6 204.0 L935.4 203.2 L937.0 202.0 L938.5 200.5 L939.9 198.9 L941.3 197.1 L942.6 195.0 L943.9 192.8 L945.0 190.5 L945.8 188.6 L946.5 186.7 L947.1 184.6 L947.8 182.4 L948.5 180.0 L949.0 178.0 L949.5 175.9 L950.0 173.6 L950.5 171.3 L951.1 169.0 L951.7 166.9 L952.4 165.0 L953.5 162.7 L954.7 160.6 L955.9 158.7 L957.3 157.0 L958.7 155.4 L960.6 153.8 L962.7 152.5 L964.9 151.3 L967.0 150.0 L968.6 148.8 L970.2 147.5 L971.8 146.2 L973.5 145.0 L975.5 144.0 L977.4 143.3 L979.6 142.7 L981.9 142.2 L984.1 141.7 L986.2 141.2 L988.0 140.7 L990.6 140.0 L992.5 139.3 L994.4 137.6 L995.3 136.3 L996.2 134.6 L997.1 132.8 L998.0 130.8 L998.9 128.7 L999.8 126.8 L1000.7 125.0 L1001.8 123.2 L1002.8 121.7 L1003.9 120.1 L1004.9 118.5 L1006.0 116.7 L1007.0 114.5 L1007.7 112.8 L1008.3 110.9 L1009.0 108.9 L1009.7 106.7 L1010.3 104.5 L1011.0 102.3 L1011.6 100.0 L1012.3 97.8 L1013.0 95.7 L1013.7 93.6 L1014.4 91.3 L1015.1 89.1 L1015.9 86.8 L1016.6 84.6 L1017.3 82.4 L1018.1 80.4 L1018.8 78.5 L1019.5 76.8 L1020.8 74.1 L1022.0 71.9 L1023.3 69.9 L1024.5 68.3 L1025.8 67.0 L1027.8 65.6 L1029.8 65.0 L1032.0 65.0 L1034.0 65.7 L1036.3 67.0 L1038.6 68.2 L1040.5 68.5 L1042.0 67.5 L1043.3 65.7 L1044.5 63.6 L1045.6 61.7 L1047.3 59.5 L1048.9 57.4 L1050.0 56.0" stroke="#ff0000" stroke-width="3"/>
<path d="M0.0 351.4 L1.3 351.7 L3.2 352.2 L5.4 352.8 L7.8 353.4 L10.2 354.0 L12.6 354.5 L14.6 354.9 L16.6 355.3 L18.6 355.7 L20.7 356.0 L22.8 356.3 L24.9 356.5 L27.0 356.6 L29.1 356.5 L31.2 356.3 L33.3 356.0 L35.4 355.7 L37.6 355.4 L39.8 355.1 L42.0 355.0 L44.0 355.0 L46.1 355.2 L48.2 355.4 L50.4 355.7 L52.5 355.9 L54.6 356.1 L56.7 356.1 L58.7 356.0 L60.8 355.6 L62.9 355.1 L64.8 354.4 L66.8 353.7 L68.8 352.9 L71.0 352.1 L73.4 351.4 L75.3 351.0 L77.3 350.5 L79.4 350.1 L81.7 349.7 L83.9 349.3 L86.2 348.9 L88.4 348.4 L90.5 348.0 L92.5 347.5 L94.4 347.0 L96.8 346.2 L99.0 345.5 L101.0 344.7 L102.9 343.8 L104.8 342.9 L106.8 342.0 L109.0 341.0 L110.8 340.2 L112.5 339.4 L114.3 338.6 L116.2 337.8 L118.0 336.9 L119.9 335.9 L121.9 334.9 L123.9 333.8 L126.0 332.5 L127.5 331.5 L129.0 330.5 L130.6 329.4 L132.2 328.2 L133.8 327.0 L135.4 325.8 L137.1 324.5 L138.7 323.3 L140.4 322.0 L142.1 320.7 L143.7 319.4 L145.4 318.2 L147.0 317.0 L148.8 315.7 L150.5 314.4 L152.2 313.1 L154.0 311.8 L155.8 310.5 L157.5 309.2 L159.2 307.9 L161.0 306.7 L162.8 305.4 L164.5 304.2 L166.2 303.0 L168.0 301.8 L169.8 300.6 L171.5 299.4 L173.2 298.3 L175.0 297.1 L176.8 296.0 L178.5 294.8 L180.2 293.7 L182.0 292.7 L183.8 291.7 L185.5 290.7 L187.2 289.8 L189.0 289.0 L191.1 288.1 L193.2 287.3 L195.3 286.6 L197.4 286.0 L199.4 285.4 L201.5 284.9 L203.6 284.4 L205.7 283.9 L207.9 283.5 L210.0 283.0 L212.0 282.6 L214.0 282.1 L216.1 281.7 L218.1 281.2 L220.2 280.8 L222.3 280.4 L224.3 280.1 L226.4 279.8 L228.3 279.6 L230.2 279.5 L232.0 279.5 L234.4 279.7 L236.6 280.0 L238.7 280.6 L240.8 281.2 L242.8 281.9 L244.8 282.5 L246.7 283.2 L248.7 283.7 L250.9 284.2 L253.0 284.8 L255.0 285.4 L257.1 285.9 L259.1 286.3 L261.2 286.7 L263.4 286.9 L265.4 286.9 L267.5 286.8 L269.6 286.6 L271.7 286.3 L273.8 286.0 L275.9 285.8 L278.0 285.7 L280.0 285.8 L282.2 286.1 L284.3 286.5 L286.4 287.1 L288.5 287.7 L290.6 288.4 L292.7 289.2 L294.9 290.0 L296.7 290.7 L298.5 291.4 L300.4 292.2 L302.3 293.0 L304.2 293.8 L306.1 294.7 L308.0 295.6 L309.8 296.5 L311.6 297.4 L313.5 298.5 L315.4 299.5 L317.3 300.6 L319.1 301.8 L320.9 303.0 L322.7 304.2 L324.5 305.5 L326.3 306.8 L327.9 308.0 L329.6 309.3 L331.3 310.7 L332.9 312.1 L334.6 313.5 L336.3 314.9 L337.9 316.4 L339.5 317.9 L341.0 319.4 L342.5 321.0 L344.0 322.6 L345.5 324.3 L346.9 326.0 L348.3 327.7 L349.7 329.3 L351.1 331.0 L352.4 332.5 L353.6 334.0 L355.0 335.7 L356.3 337.2 L357.5 338.5 L358.6 339.9 L359.9 341.3 L361.3 342.9 L363.0 344.7 L364.3 346.0 L365.6 347.4 L367.1 348.9 L368.6 350.5 L370.2 352.1 L371.8 353.7 L373.5 355.3 L375.1 356.9 L376.7 358.5 L378.2 360.0 L379.7 361.5 L381.3 363.0 L382.8 364.5 L384.3 365.9 L385.7 367.2 L387.2 368.6 L388.6 370.0 L390.1 371.4 L391.5 372.8 L392.9 374.4 L394.4 376.0 L395.7 377.6 L397.1 379.2 L398.4 380.9 L399.8 382.7 L401.2 384.5 L402.5 386.3 L403.8 388.1 L405.2 389.9 L406.5 391.6 L407.7 393.3 L409.0 395.0 L410.3 396.8 L411.6 398.5 L412.9 400.3 L414.2 402.0 L415.4 403.7 L416.7 405.3 L417.9 407.0 L419.1 408.6 L420.3 410.2 L421.6 411.8 L423.0 413.5 L424.4 415.3 L425.8 416.9 L427.2 418.6 L428.6 420.2 L430.0 421.8 L431.4 423.4 L432.8 425.0 L434.2 426.5 L435.8 428.2 L437.5 429.9 L439.2 431.6 L440.9 433.2 L442.6 434.8 L444.1 436.3 L445.6 437.7 L446.8 439.0 L448.7 441.3 L450.0 443.1 L451.1 444.8 L452.6 446.5 L454.0 447.9 L455.6 449.3 L457.2 450.6 L459.0 451.8 L461.0 452.8 L462.8 453.5 L464.8 454.1 L466.9 454.6 L469.1 455.0 L471.3 455.2 L473.6 455.3 L475.5 455.2 L477.5 455.0 L479.4 454.6 L481.5 454.2 L483.6 453.7 L485.9 453.2 L488.3 452.8 L490.1 452.5 L492.1 452.1 L494.1 451.7 L496.2 451.3 L498.4 450.9 L500.5 450.5 L502.7 450.2 L504.9 449.9 L507.1 449.7 L509.2 449.6 L511.3 449.6 L513.5 449.8 L515.6 450.0 L517.8 450.3 L520.0 450.6 L522.1 451.0 L524.2 451.3 L526.3 451.5 L528.3 451.7 L530.2 451.7 L532.6 451.6 L535.0 451.3 L537.4 450.9 L539.7 450.4 L541.8 450.0 L543.8 449.5 L545.5 449.0 L547.0 448.6 L548.7 447.5 L551.0 446.0 L552.4 445.5 L554.2 444.9 L556.2 444.3 L558.4 443.6 L560.7 442.9 L563.1 442.2 L565.5 441.5 L567.8 440.8 L570.0 440.3 L572.0 439.8 L574.3 439.3 L576.5 438.9 L578.7 438.6 L580.7 438.3 L582.8 438.1 L584.8 437.9 L586.7 437.8 L588.7 437.7 L590.9 437.7 L593.0 437.7 L595.0 437.9 L597.1 438.0 L599.1 438.2 L601.2 438.5 L603.4 438.7 L605.4 438.9 L607.4 439.2 L609.4 439.5 L611.4 439.8 L613.5 440.1 L615.6 440.4 L617.8 440.6 L620.0 440.8 L622.0 440.9 L624.1 441.1 L626.2 441.2 L628.4 441.3 L630.6 441.3 L632.7 441.3 L634.9 441.3 L637.0 441.1 L639.0 440.8 L641.2 440.3 L643.4 439.7 L645.5 439.0 L647.5 438.2 L649.6 437.4 L651.7 436.4 L653.7 435.5 L655.8 434.5 L657.7 433.6 L659.5 432.7 L661.4 431.7 L663.3 430.7 L665.1 429.7 L667.0 428.6 L668.9 427.4 L670.7 426.2 L672.6 425.0 L674.3 423.8 L676.0 422.4 L677.7 421.0 L679.5 419.6 L681.2 418.1 L682.9 416.6 L684.6 415.2 L686.2 413.8 L687.8 412.6 L689.4 411.5 L691.4 410.2 L693.3 409.2 L695.1 408.3 L696.8 407.5 L698.7 406.7 L700.7 405.9 L703.0 404.9 L704.6 404.2 L706.4 403.5 L708.3 402.7 L710.2 401.9 L712.2 401.1 L714.3 400.3 L716.3 399.5 L718.3 398.7 L720.3 397.9 L722.1 397.2 L723.9 396.5 L726.0 395.7 L728.0 395.0 L730.0 394.3 L731.9 393.7 L733.7 393.0 L735.6 392.4 L737.3 391.7 L739.0 390.9 L740.7 390.0 L742.4 388.9 L744.0 387.7 L745.6 386.4 L747.0 385.1 L748.5 383.8 L750.0 382.4 L751.6 381.0 L753.3 379.7 L755.0 378.5 L756.7 377.3 L758.6 376.1 L760.4 374.9 L762.3 373.8 L764.3 372.6 L766.2 371.4 L768.1 370.2 L770.0 369.0 L771.9 367.9 L773.7 366.7 L775.6 365.6 L777.5 364.5 L779.3 363.4 L781.2 362.3 L783.1 361.1 L784.9 359.9 L786.8 358.7 L788.5 357.5 L790.2 356.2 L791.9 354.9 L793.6 353.6 L795.3 352.2 L797.0 350.9 L798.7 349.6 L800.4 348.3 L802.0 347.1 L803.6 346.0 L805.5 344.8 L807.4 343.7 L809.3 342.8 L811.1 341.9 L812.9 341.0 L814.7 340.1 L816.5 339.0 L818.3 337.8 L819.9 336.6 L821.5 335.3 L823.1 333.9 L824.7 332.5 L826.3 331.1 L828.0 329.6 L829.6 328.0 L831.3 326.5 L833.0 325.0 L834.5 323.7 L836.0 322.4 L837.6 321.1 L839.3 319.7 L840.9 318.3 L842.6 316.9 L844.2 315.5 L845.7 314.2 L847.1 312.9 L848.5 311.7 L849.7 310.5 L851.5 308.6 L852.9 307.0 L854.1 305.4 L855.2 303.8 L856.5 302.1 L858.0 300.0 L859.1 298.5 L860.3 297.0 L861.5 295.3 L862.8 293.5 L864.1 291.7 L865.4 289.8 L866.8 288.0 L868.1 286.2 L869.4 284.5 L870.7 282.8 L872.1 281.0 L873.4 279.3 L874.7 277.6 L875.9 275.9 L877.2 274.3 L878.6 272.7 L880.0 271.1 L881.4 269.5 L883.0 268.0 L884.5 266.7 L886.1 265.4 L887.8 264.2 L889.5 263.0 L891.2 261.9 L893.0 260.7 L894.8 259.5 L896.5 258.2 L898.3 256.9 L900.0 255.5 L901.5 254.1 L903.1 252.7 L904.6 251.2 L906.1 249.6 L907.6 248.0 L909.2 246.4 L910.7 244.8 L912.2 243.2 L913.7 241.7 L915.3 240.2 L916.8 238.7 L918.3 237.3 L919.9 235.8 L921.4 234.4 L923.0 233.0 L924.6 231.6 L926.1 230.3 L927.6 228.9 L929.2 227.6 L930.7 226.4 L932.2 225.2 L933.6 224.0 L935.3 222.7 L937.1 221.4 L938.8 220.3 L940.5 219.2 L942.2 218.1 L943.8 217.1 L945.4 216.0 L946.9 214.8 L948.3 213.6 L949.8 212.1 L951.1 210.6 L952.4 208.9 L953.6 207.3 L954.7 205.7 L956.0 204.1 L957.3 202.5 L958.8 201.0 L960.4 199.6 L962.2 198.2 L964.0 196.8 L965.8 195.5 L967.7 194.2 L969.7 192.9 L971.5 191.7 L973.4 190.5 L975.2 189.4 L977.0 188.3 L978.8 187.4 L980.6 186.4 L982.4 185.4 L984.2 184.4 L986.1 183.3 L988.0 182.0 L989.6 180.9 L991.3 179.7 L993.0 178.5 L994.8 177.2 L996.6 175.9 L998.3 174.5 L1000.1 173.2 L1001.8 171.8 L1003.4 170.4 L1004.9 169.0 L1006.5 167.4 L1008.0 165.9 L1009.4 164.3 L1010.8 162.6 L1012.1 161.0 L1013.4 159.3 L1014.7 157.7 L1016.0 156.0 L1017.4 154.4 L1018.8 152.8 L1020.2 151.1 L1021.6 149.5 L1023.0 147.9 L1024.4 146.2 L1025.8 144.6 L1027.2 143.0 L1028.6 141.3 L1030.0 139.7 L1031.4 138.0 L1032.9 136.3 L1034.4 134.6 L1035.9 132.8 L1037.4 131.1 L1038.8 129.4 L1040.1 127.8 L1041.4 126.4 L1042.6 125.0 L1044.5 122.8 L1046.3 120.8 L1047.8 119.1 L1049.1 117.6 L1050.0 116.6" stroke="#ffff00" stroke-width="3.2"/>
<path d="M0.0 238.9 L0.9 239.7 L2.1 240.6 L3.4 241.8 L4.9 243.0 L6.5 244.4 L8.3 245.9 L10.1 247.4 L12.0 249.0 L13.9 250.6 L15.7 252.2 L17.6 253.7 L19.3 255.2 L21.0 256.7 L22.5 258.0 L24.0 259.3 L25.5 260.6 L27.0 261.9 L28.5 263.2 L30.0 264.6 L31.5 265.9 L33.0 267.2 L34.5 268.6 L36.0 269.9 L37.5 271.3 L39.0 272.7 L40.5 274.2 L42.0 275.6 L43.4 277.0 L44.9 278.4 L46.4 279.9 L47.9 281.5 L49.4 283.0 L50.9 284.6 L52.4 286.1 L53.9 287.7 L55.4 289.2 L56.8 290.8 L58.2 292.2 L59.5 293.7 L60.7 295.0 L61.9 296.4 L63.0 297.6 L64.8 299.8 L66.3 301.8 L67.7 303.7 L68.8 305.4 L70.0 307.1 L71.0 308.6 L72.2 310.1 L73.4 311.5 L75.2 313.2 L76.9 314.6 L78.7 315.9 L80.5 317.1 L82.2 318.3 L84.0 319.5 L85.7 320.8 L87.3 322.1 L89.0 323.4 L90.6 324.7 L92.4 326.0 L94.4 327.2 L96.0 328.1 L97.7 329.0 L99.5 329.9 L101.3 330.8 L103.2 331.7 L105.1 332.5 L107.0 333.3 L109.0 334.0 L111.0 334.7 L113.0 335.3 L115.1 335.8 L117.2 336.3 L119.4 336.8 L121.6 337.2 L123.8 337.6 L126.0 338.0 L128.0 338.3 L130.1 338.6 L132.1 338.8 L134.3 339.0 L136.4 339.2 L138.5 339.4 L140.7 339.5 L142.8 339.5 L145.0 339.5 L146.9 339.4 L148.9 339.3 L150.8 339.2 L152.7 339.0 L154.7 338.8 L156.7 338.6 L158.7 338.3 L160.7 338.0 L162.8 337.7 L165.0 337.3 L166.9 337.0 L168.8 336.6 L170.8 336.2 L172.8 335.8 L174.9 335.3 L176.9 334.9 L179.0 334.4 L181.1 333.9 L183.1 333.5 L185.1 333.1 L187.1 332.7 L189.0 332.3 L191.2 331.9 L193.4 331.6 L195.5 331.3 L197.6 331.0 L199.7 330.7 L201.7 330.5 L203.8 330.2 L205.8 329.9 L207.9 329.6 L210.0 329.2 L212.1 328.8 L214.2 328.3 L216.3 327.9 L218.4 327.4 L220.4 326.8 L222.5 326.3 L224.6 325.8 L226.7 325.4 L228.9 324.9 L231.0 324.5 L233.0 324.2 L234.9 323.9 L236.9 323.6 L238.9 323.4 L240.9 323.2 L243.0 323.0 L245.0 322.8 L247.0 322.5 L249.0 322.2 L250.9 321.9 L252.9 321.5 L255.0 321.0 L257.2 320.5 L259.3 320.0 L261.4 319.4 L263.5 318.8 L265.5 318.1 L267.6 317.4 L269.7 316.7 L271.8 316.0 L273.9 315.2 L275.8 314.4 L277.8 313.6 L279.7 312.7 L281.7 311.8 L283.7 310.8 L285.6 309.8 L287.6 308.9 L289.5 308.0 L291.3 307.1 L293.2 306.4 L294.9 305.7 L297.1 304.9 L299.2 304.2 L301.1 303.6 L303.0 303.0 L304.9 302.5 L306.9 302.1 L309.1 301.8 L311.6 301.5 L313.4 301.3 L315.4 301.2 L317.4 301.2 L319.5 301.1 L321.7 301.1 L323.9 301.1 L326.2 301.2 L328.4 301.2 L330.6 301.3 L332.7 301.4 L334.8 301.4 L336.8 301.5 L339.0 301.6 L341.2 301.7 L343.2 301.7 L345.2 301.8 L347.2 301.9 L349.2 302.1 L351.2 302.3 L353.3 302.5 L355.5 302.7 L357.8 303.0 L359.7 303.3 L361.8 303.5 L363.9 303.8 L366.1 304.1 L368.4 304.5 L370.7 304.8 L372.9 305.2 L375.2 305.6 L377.3 306.0 L379.4 306.4 L381.4 306.9 L383.3 307.3 L385.0 307.8 L387.4 308.6 L389.4 309.4 L391.2 310.2 L392.7 311.1 L394.3 312.1 L395.9 313.1 L397.6 314.1 L399.7 315.2 L401.4 316.0 L403.2 316.9 L405.0 317.9 L406.9 318.8 L408.9 319.8 L410.9 320.8 L412.9 321.8 L414.9 322.8 L416.9 323.8 L418.8 324.8 L420.7 325.7 L422.8 326.7 L424.9 327.7 L427.0 328.7 L429.1 329.6 L431.2 330.6 L433.3 331.5 L435.2 332.5 L437.0 333.3 L438.6 334.2 L440.0 335.0 L442.2 336.6 L443.3 337.8 L444.4 339.3 L446.8 341.5 L448.0 342.4 L449.2 343.4 L450.7 344.6 L452.2 345.7 L453.8 347.0 L455.5 348.3 L457.3 349.6 L459.1 351.0 L460.9 352.3 L462.7 353.6 L464.4 354.9 L466.1 356.1 L467.8 357.3 L469.6 358.5 L471.3 359.7 L473.1 360.9 L474.8 362.1 L476.6 363.2 L478.3 364.4 L480.1 365.5 L481.8 366.6 L483.6 367.7 L485.3 368.8 L487.1 369.8 L488.8 370.9 L490.7 372.0 L492.6 373.1 L494.5 374.1 L496.3 375.2 L498.2 376.2 L500.1 377.2 L502.0 378.2 L503.9 379.2 L505.8 380.2 L507.7 381.3 L509.7 382.4 L511.5 383.4 L513.4 384.5 L515.3 385.6 L517.2 386.8 L519.1 387.9 L521.0 389.1 L522.9 390.2 L524.8 391.3 L526.6 392.4 L528.5 393.5 L530.3 394.5 L532.0 395.5 L534.0 396.6 L536.0 397.5 L537.9 398.4 L539.7 399.2 L541.6 400.0 L543.4 400.8 L545.3 401.7 L547.1 402.7 L549.0 403.8 L551.0 405.0 L552.5 406.1 L554.1 407.2 L555.7 408.5 L557.3 409.8 L558.9 411.1 L560.6 412.5 L562.2 414.0 L563.8 415.4 L565.5 416.8 L567.1 418.2 L568.7 419.5 L570.4 420.8 L572.0 422.0 L573.8 423.3 L575.5 424.5 L577.4 425.7 L579.2 426.9 L581.0 428.1 L582.8 429.3 L584.6 430.4 L586.3 431.5 L588.1 432.6 L589.7 433.6 L591.4 434.6 L593.0 435.6 L595.1 436.9 L597.0 438.1 L599.0 439.3 L600.8 440.4 L602.7 441.5 L604.4 442.5 L606.2 443.4 L608.0 444.3 L609.7 445.0 L611.8 445.8 L613.9 446.4 L615.8 446.9 L617.8 447.3 L619.8 447.5 L622.0 447.8 L624.4 448.0 L626.2 448.1 L628.2 448.2 L630.2 448.3 L632.4 448.3 L634.5 448.3 L636.7 448.3 L638.9 448.2 L641.1 448.2 L643.3 448.1 L645.4 448.0 L647.5 447.9 L649.7 447.8 L651.9 447.6 L654.1 447.4 L656.2 447.3 L658.4 447.0 L660.5 446.8 L662.5 446.6 L664.5 446.3 L666.3 446.0 L668.7 445.6 L670.9 445.1 L672.9 444.6 L674.9 444.1 L676.8 443.4 L678.8 442.7 L681.0 441.9 L682.8 441.2 L684.5 440.3 L686.3 439.4 L688.1 438.4 L689.9 437.4 L691.8 436.4 L693.7 435.4 L695.7 434.4 L697.8 433.5 L699.6 432.8 L701.4 432.0 L703.2 431.3 L705.1 430.6 L707.1 429.9 L709.0 429.2 L711.0 428.5 L713.0 427.8 L714.9 427.2 L716.9 426.6 L718.8 426.0 L720.9 425.4 L723.0 424.9 L725.1 424.4 L727.2 424.0 L729.2 423.6 L731.3 423.2 L733.4 422.8 L735.5 422.4 L737.6 421.9 L739.7 421.5 L741.8 421.0 L743.9 420.5 L745.9 420.1 L748.0 419.6 L750.1 419.1 L752.1 418.6 L754.2 418.1 L756.4 417.6 L758.5 417.2 L760.7 416.7 L762.8 416.3 L764.9 415.9 L767.1 415.5 L769.4 415.1 L771.6 414.8 L773.9 414.4 L776.1 414.0 L778.2 413.7 L780.3 413.3 L782.2 412.9 L784.0 412.5 L786.6 411.9 L788.9 411.4 L791.0 410.8 L793.0 410.3 L794.8 409.6 L796.7 408.9 L798.6 408.0 L800.5 407.0 L802.2 405.8 L803.9 404.5 L805.6 403.2 L807.3 401.8 L809.1 400.4 L811.0 399.0 L812.5 397.9 L814.1 396.7 L815.7 395.6 L817.3 394.4 L819.0 393.2 L820.6 392.0 L822.3 390.8 L824.1 389.6 L825.8 388.4 L827.5 387.3 L829.2 386.2 L830.8 385.2 L832.5 384.1 L834.2 383.1 L836.1 382.0 L838.1 380.8 L840.2 379.5 L842.6 378.0 L844.1 377.1 L845.6 376.2 L847.3 375.1 L849.0 374.1 L850.8 373.0 L852.7 371.9 L854.6 370.8 L856.5 369.6 L858.4 368.5 L860.3 367.3 L862.2 366.2 L864.0 365.0 L865.8 363.9 L867.5 362.8 L869.2 361.8 L870.7 360.8 L872.7 359.5 L874.5 358.3 L876.2 357.1 L877.7 356.1 L879.2 355.0 L880.7 354.0 L882.3 352.8 L883.9 351.6 L885.7 350.3 L887.7 348.7 L890.0 347.0 L891.3 346.0 L892.7 344.9 L894.2 343.7 L895.8 342.5 L897.4 341.2 L899.1 339.9 L900.8 338.5 L902.6 337.1 L904.3 335.7 L906.1 334.3 L907.9 332.9 L909.7 331.4 L911.5 330.0 L913.2 328.6 L915.0 327.2 L916.6 325.9 L918.2 324.6 L919.8 323.3 L921.3 322.2 L922.7 321.0 L924.0 320.0 L926.1 318.3 L928.0 316.8 L929.8 315.5 L931.4 314.2 L932.9 313.0 L934.3 311.9 L935.7 310.8 L937.1 309.7 L938.5 308.6 L939.9 307.4 L941.4 306.2 L943.0 304.9 L944.6 303.6 L946.2 302.2 L947.8 300.8 L949.4 299.4 L951.1 297.9 L952.8 296.4 L954.4 294.9 L956.1 293.5 L957.7 292.0 L959.3 290.7 L960.9 289.4 L962.4 288.1 L963.9 287.0 L966.0 285.5 L967.9 284.2 L969.9 282.9 L971.8 281.8 L973.6 280.8 L975.4 279.7 L977.2 278.7 L978.9 277.7 L980.7 276.6 L982.6 275.4 L984.5 274.3 L986.4 273.2 L988.2 272.1 L990.0 270.9 L991.8 269.7 L993.6 268.4 L995.4 267.0 L996.9 265.8 L998.3 264.5 L999.7 263.1 L1001.1 261.7 L1002.6 260.3 L1004.0 258.8 L1005.5 257.2 L1006.9 255.7 L1008.5 254.1 L1010.0 252.4 L1011.3 251.0 L1012.7 249.5 L1014.1 247.9 L1015.5 246.3 L1017.0 244.7 L1018.4 243.0 L1019.8 241.4 L1021.3 239.7 L1022.7 238.1 L1024.1 236.5 L1025.5 235.0 L1026.8 233.6 L1028.4 231.9 L1030.0 230.3 L1031.6 228.7 L1033.2 227.1 L1034.7 225.6 L1036.2 224.1 L1037.6 222.7 L1039.0 221.4 L1040.3 220.1 L1041.5 218.9 L1043.7 216.7 L1045.6 214.7 L1047.2 213.0 L1048.5 211.5 L1049.5 210.5" stroke="#00b050" stroke-width="3.2"/>
</g>
<g fill="none" shape-rendering="crispEdges">
<path d="M0.0 396.5 L1.0 394.2 L2.0 391.7 L3.0 388.8 L4.0 385.6 L5.0 381.9 L6.0 377.9 L7.0 373.6 L8.0 369.0 L9.0 364.3 L10.0 359.7 L11.0 355.3 L12.0 351.2 L13.0 347.5 L14.0 344.3 L15.0 341.5 L16.0 339.1 L17.0 337.3 L18.0 335.8 L19.0 334.7 L20.0 333.8 L21.0 333.1 L22.0 332.5 L23.0 331.9 L24.0 331.4 L25.0 331.0 L26.0 330.5 L27.0 329.9 L28.0 329.3 L29.0 328.8 L30.0 328.3 L31.0 327.9 L32.0 327.8 L33.0 327.9 L34.0 328.2 L35.0 328.8 L36.0 329.6 L37.0 330.5 L38.0 331.3 L39.0 332.1 L40.0 332.8 L41.0 333.3 L42.0 333.8 L43.0 334.2 L44.0 334.8 L45.0 335.4 L46.0 336.2 L47.0 337.1 L48.0 337.9 L49.0 338.7 L50.0 339.4 L51.0 339.9 L52.0 340.4 L53.0 340.8 L54.0 341.2 L55.0 341.7 L56.0 342.3 L57.0 343.1 L58.0 343.9 L59.0 344.8 L60.0 345.7 L61.0 346.2 L62.0 346.6 L63.0 346.8 L64.0 346.9 L65.0 346.7 L66.0 346.4 L67.0 346.0 L68.0 345.3 L69.0 344.4 L70.0 343.4 L71.0 342.2 L72.0 340.8 L73.0 339.2 L74.0 337.5 L75.0 335.7 L76.0 333.8 L77.0 331.7 L78.0 329.6 L79.0 327.4 L80.0 325.2 L81.0 322.9 L82.0 320.6 L83.0 318.3 L84.0 316.2 L85.0 314.3 L86.0 312.8 L87.0 311.6 L88.0 310.9 L89.0 310.6 L90.0 310.8 L91.0 311.5 L92.0 312.5 L93.0 313.9 L94.0 315.4 L95.0 317.0 L96.0 318.5 L97.0 319.8 L98.0 320.8 L99.0 321.3 L100.0 321.4 L101.0 320.9 L102.0 319.9 L103.0 318.2 L104.0 315.9 L105.0 313.1 L106.0 309.7 L107.0 306.1 L108.0 302.4 L109.0 298.8 L110.0 295.4 L111.0 292.3 L112.0 289.6 L113.0 287.1 L114.0 284.6 L115.0 282.4 L116.0 280.4 L117.0 278.7 L118.0 277.4 L119.0 276.2 L120.0 275.3 L121.0 274.5 L122.0 274.1 L123.0 274.1 L124.0 274.2 L125.0 274.4 L126.0 274.8 L127.0 275.3 L128.0 276.1 L129.0 277.2 L130.0 278.6 L131.0 280.0 L132.0 281.5 L133.0 283.1 L134.0 284.6 L135.0 286.2 L136.0 287.8 L137.0 289.3 L138.0 290.7 L139.0 291.9 L140.0 292.7 L141.0 293.2 L142.0 293.2 L143.0 292.7 L144.0 291.7 L145.0 290.1 L146.0 288.0 L147.0 285.4 L148.0 282.4 L149.0 279.0 L150.0 275.2 L151.0 271.2 L152.0 267.0 L153.0 262.8 L154.0 258.5 L155.0 254.4 L156.0 250.4 L157.0 246.7 L158.0 243.3 L159.0 240.3 L160.0 237.8 L161.0 235.6 L162.0 233.7 L163.0 232.2 L164.0 231.0 L165.0 230.0 L166.0 229.2 L167.0 228.6 L168.0 228.1 L169.0 227.8 L170.0 227.9 L171.0 228.2 L172.0 228.9 L173.0 229.8 L174.0 230.8 L175.0 232.0 L176.0 233.3 L177.0 234.5 L178.0 235.7 L179.0 236.9 L180.0 238.2 L181.0 239.5 L182.0 241.0 L183.0 242.5 L184.0 244.2 L185.0 245.9 L186.0 247.7 L187.0 249.5 L188.0 251.5 L189.0 253.5 L190.0 255.6 L191.0 257.9 L192.0 260.3 L193.0 262.8 L194.0 265.5 L195.0 268.3 L196.0 271.4 L197.0 274.5 L198.0 278.0 L199.0 281.7 L200.0 285.8 L201.0 290.2 L202.0 294.8 L203.0 299.3 L204.0 303.4 L205.0 306.9 L206.0 309.4 L207.0 310.9 L208.0 311.5 L209.0 311.5 L210.0 311.4 L211.0 311.3 L212.0 311.5 L213.0 311.9 L214.0 312.3 L215.0 312.7 L216.0 313.3 L217.0 314.1 L218.0 315.0 L219.0 315.9 L220.0 316.4 L221.0 316.5 L222.0 316.1 L223.0 315.0 L224.0 313.3 L225.0 311.3 L226.0 309.0 L227.0 306.6 L228.0 304.3 L229.0 302.5 L230.0 301.0 L231.0 300.1 L232.0 299.8 L233.0 300.0 L234.0 300.5 L235.0 301.2 L236.0 301.9 L237.0 302.3 L238.0 302.6 L239.0 303.0 L240.0 303.7 L241.0 304.7 L242.0 306.2 L243.0 308.1 L244.0 310.2 L245.0 312.6 L246.0 315.1 L247.0 317.6 L248.0 320.3 L249.0 323.1 L250.0 326.1 L251.0 329.1 L252.0 332.1 L253.0 335.1 L254.0 337.9 L255.0 340.3 L256.0 342.3 L257.0 343.6 L258.0 344.3 L259.0 344.4 L260.0 344.2 L261.0 343.7 L262.0 343.0 L263.0 342.1 L264.0 340.9 L265.0 339.5 L266.0 337.7 L267.0 335.6 L268.0 333.0 L269.0 330.0 L270.0 326.5 L271.0 322.5 L272.0 317.9 L273.0 312.8 L274.0 307.1 L275.0 301.0 L276.0 294.6 L277.0 288.0 L278.0 281.6 L279.0 275.3 L280.0 269.5 L281.0 264.3 L282.0 259.8 L283.0 256.1 L284.0 253.3 L285.0 251.3 L286.0 249.9 L287.0 249.1 L288.0 248.8 L289.0 249.1 L290.0 249.8 L291.0 251.2 L292.0 253.2 L293.0 255.7 L294.0 258.8 L295.0 262.5 L296.0 266.5 L297.0 271.0 L298.0 275.7 L299.0 280.4 L300.0 284.9 L301.0 289.3 L302.0 293.3 L303.0 297.2 L304.0 300.9 L305.0 304.3 L306.0 307.6 L307.0 310.8 L308.0 313.7 L309.0 316.6 L310.0 319.3 L311.0 321.9 L312.0 324.5 L313.0 326.9 L314.0 329.3 L315.0 331.6 L316.0 333.8 L317.0 335.9 L318.0 337.8 L319.0 339.5 L320.0 340.9 L321.0 342.0 L322.0 342.8 L323.0 343.3 L324.0 343.7 L325.0 344.3 L326.0 345.3 L327.0 346.8 L328.0 348.9 L329.0 351.8 L330.0 355.3 L331.0 359.5 L332.0 364.4 L333.0 369.8 L334.0 375.8 L335.0 382.3 L336.0 389.1 L337.0 396.2 L338.0 403.6 L339.0 411.1 L340.0 418.7 L341.0 426.3 L342.0 433.7 L343.0 441.0 L344.0 447.9 L345.0 454.3 L346.0 460.1 L347.0 465.1 L348.0 469.2 L349.0 472.5 L350.0 475.0 L351.0 476.9 L352.0 478.3 L353.0 479.2 L354.0 479.6 L355.0 479.6 L356.0 479.2 L357.0 478.3 L358.0 477.1 L359.0 475.6 L360.0 473.7 L361.0 471.6 L362.0 469.2 L363.0 466.6 L364.0 463.7 L365.0 460.6 L366.0 457.3 L367.0 453.9 L368.0 450.6 L369.0 447.5 L370.0 444.6 L371.0 442.0 L372.0 439.8 L373.0 438.0 L374.0 436.6 L375.0 435.7 L376.0 435.3 L377.0 435.3 L378.0 435.7 L379.0 436.5 L380.0 437.7 L381.0 439.3 L382.0 441.2 L383.0 443.2 L384.0 445.4 L385.0 447.6 L386.0 449.8 L387.0 452.1 L388.0 454.3 L389.0 456.7 L390.0 459.1 L391.0 461.7 L392.0 464.5 L393.0 467.4 L394.0 470.8 L395.0 474.5 L396.0 478.8 L397.0 483.6 L398.0 488.9 L399.0 494.5 L400.0 500.0 L401.0 505.3 L402.0 510.2 L403.0 514.5 L404.0 518.2 L405.0 521.2 L406.0 523.3 L407.0 524.7 L408.0 525.2 L409.0 524.8 L410.0 523.6 L411.0 521.8 L412.0 519.4 L413.0 516.6 L414.0 513.5 L415.0 510.3 L416.0 506.9 L417.0 503.4 L418.0 499.8 L419.0 496.0 L420.0 492.1 L421.0 488.1 L422.0 484.1 L423.0 480.2 L424.0 476.5 L425.0 472.9 L426.0 469.6 L427.0 466.5 L428.0 463.5 L429.0 460.6 L430.0 457.8 L431.0 455.0 L432.0 452.1 L433.0 448.9 L434.0 445.5 L435.0 441.9 L436.0 438.2 L437.0 434.6 L438.0 431.3 L439.0 428.3 L440.0 425.8 L441.0 423.6 L442.0 421.9 L443.0 420.5 L444.0 419.4 L445.0 418.6 L446.0 418.0 L447.0 417.5 L448.0 417.2 L449.0 417.1 L450.0 417.0 L451.0 417.1 L452.0 417.5 L453.0 418.1 L454.0 419.0 L455.0 420.1 L456.0 421.6 L457.0 423.2 L458.0 425.1 L459.0 427.0 L460.0 428.9 L461.0 430.8 L462.0 432.4 L463.0 433.8 L464.0 434.9 L465.0 435.7 L466.0 436.2 L467.0 436.3 L468.0 436.3 L469.0 436.2 L470.0 436.1 L471.0 436.0 L472.0 436.0 L473.0 436.2 L474.0 436.3 L475.0 436.4 L476.0 436.3 L477.0 435.9 L478.0 435.2 L479.0 434.3 L480.0 433.1 L481.0 431.8 L482.0 430.3 L483.0 428.9 L484.0 427.4 L485.0 426.0 L486.0 424.7 L487.0 423.4 L488.0 422.1 L489.0 420.8 L490.0 419.6 L491.0 418.3 L492.0 417.1 L493.0 415.8 L494.0 414.6 L495.0 413.3 L496.0 412.2 L497.0 411.1 L498.0 410.1 L499.0 409.3 L500.0 408.7 L501.0 408.2 L502.0 408.0 L503.0 408.2 L504.0 408.4 L505.0 408.9 L506.0 409.4 L507.0 410.0 L508.0 410.7 L509.0 411.6 L510.0 412.7 L511.0 413.8 L512.0 414.9 L513.0 416.2 L514.0 417.9 L515.0 419.9 L516.0 422.4 L517.0 425.4 L518.0 428.9 L519.0 432.9 L520.0 437.5 L521.0 442.8 L522.0 448.7 L523.0 455.1 L524.0 461.7 L525.0 468.3 L526.0 474.9 L527.0 481.1 L528.0 486.9 L529.0 492.1 L530.0 496.8 L531.0 501.0 L532.0 504.8 L533.0 508.1 L534.0 511.0 L535.0 513.4 L536.0 515.4 L537.0 516.8 L538.0 517.5 L539.0 517.4 L540.0 516.5 L541.0 514.8 L542.0 512.3 L543.0 509.0 L544.0 505.1 L545.0 500.6 L546.0 495.7 L547.0 490.3 L548.0 484.7 L549.0 478.9 L550.0 473.0 L551.0 466.9 L552.0 460.7 L553.0 454.6 L554.0 448.7 L555.0 443.0 L556.0 437.6 L557.0 432.5 L558.0 427.7 L559.0 423.2 L560.0 419.0 L561.0 414.9 L562.0 411.1 L563.0 407.3 L564.0 403.6 L565.0 400.1 L566.0 396.7 L567.0 393.5 L568.0 390.7 L569.0 388.3 L570.0 386.3 L571.0 384.7 L572.0 383.6 L573.0 382.8 L574.0 382.4 L575.0 382.2 L576.0 382.3 L577.0 382.7 L578.0 383.4 L579.0 384.5 L580.0 386.0 L581.0 387.9 L582.0 390.3 L583.0 393.3 L584.0 396.8 L585.0 400.5 L586.0 404.0 L587.0 407.4 L588.0 410.7 L589.0 413.9 L590.0 417.1 L591.0 420.2 L592.0 423.3 L593.0 426.4 L594.0 429.6 L595.0 432.8 L596.0 436.2 L597.0 439.7 L598.0 443.2 L599.0 446.8 L600.0 450.2 L601.0 453.4 L602.0 456.3 L603.0 458.9 L604.0 461.0 L605.0 462.9 L606.0 464.6 L607.0 466.0 L608.0 467.2 L609.0 468.2 L610.0 468.9 L611.0 469.3 L612.0 469.4 L613.0 469.3 L614.0 468.8 L615.0 468.0 L616.0 466.9 L617.0 465.2 L618.0 463.1 L619.0 460.4 L620.0 457.2 L621.0 453.5 L622.0 449.3 L623.0 444.8 L624.0 440.1 L625.0 435.1 L626.0 430.1 L627.0 425.0 L628.0 419.9 L629.0 414.9 L630.0 410.0 L631.0 405.4 L632.0 401.1 L633.0 397.2 L634.0 393.7 L635.0 390.6 L636.0 388.1 L637.0 386.0 L638.0 384.5 L639.0 383.5 L640.0 382.9 L641.0 382.8 L642.0 383.0 L643.0 383.5 L644.0 384.4 L645.0 385.5 L646.0 386.9 L647.0 388.5 L648.0 390.3 L649.0 392.3 L650.0 394.4 L651.0 396.6 L652.0 398.9 L653.0 401.2 L654.0 403.5 L655.0 405.7 L656.0 407.9 L657.0 409.9 L658.0 411.8 L659.0 413.6 L660.0 415.2 L661.0 416.7 L662.0 417.9 L663.0 419.0 L664.0 419.8 L665.0 420.4 L666.0 420.7 L667.0 420.8 L668.0 420.7 L669.0 420.3 L670.0 419.6 L671.0 418.6 L672.0 417.3 L673.0 415.5 L674.0 412.8 L675.0 409.4 L676.0 405.1 L677.0 400.1 L678.0 394.4 L679.0 388.2 L680.0 381.4 L681.0 374.2 L682.0 366.8 L683.0 359.4 L684.0 352.2 L685.0 345.2 L686.0 338.6 L687.0 332.6 L688.0 327.3 L689.0 322.6 L690.0 318.8 L691.0 315.7 L692.0 313.5 L693.0 312.0 L694.0 311.3 L695.0 311.3 L696.0 311.7 L697.0 312.6 L698.0 313.8 L699.0 315.2 L700.0 316.8 L701.0 318.5 L702.0 320.1 L703.0 321.7 L704.0 323.2 L705.0 324.8 L706.0 326.5 L707.0 328.5 L708.0 330.8 L709.0 333.5 L710.0 336.7 L711.0 340.2 L712.0 343.9 L713.0 347.7 L714.0 351.6 L715.0 355.5 L716.0 359.2 L717.0 362.7 L718.0 366.0 L719.0 368.9 L720.0 371.7 L721.0 374.2 L722.0 376.6 L723.0 378.8 L724.0 380.8 L725.0 382.8 L726.0 384.6 L727.0 386.4 L728.0 388.1 L729.0 389.7 L730.0 391.2 L731.0 392.5 L732.0 393.8 L733.0 395.0 L734.0 396.0 L735.0 396.8 L736.0 397.4 L737.0 397.9 L738.0 398.1 L739.0 398.0 L740.0 397.8 L741.0 397.2 L742.0 396.4 L743.0 395.1 L744.0 393.4 L745.0 391.2 L746.0 388.3 L747.0 384.9 L748.0 381.0 L749.0 376.6 L750.0 371.9 L751.0 366.8 L752.0 361.5 L753.0 356.0 L754.0 350.3 L755.0 344.7 L756.0 339.2 L757.0 334.0 L758.0 329.3 L759.0 325.0 L760.0 321.5 L761.0 318.5 L762.0 316.2 L763.0 314.4 L764.0 313.2 L765.0 312.5 L766.0 312.3 L767.0 312.5 L768.0 313.0 L769.0 313.8 L770.0 314.8 L771.0 315.8 L772.0 317.0 L773.0 318.1 L774.0 319.1 L775.0 320.0 L776.0 320.9 L777.0 321.7 L778.0 322.4 L779.0 323.2 L780.0 323.8 L781.0 324.5 L782.0 325.1 L783.0 325.6 L784.0 326.0 L785.0 326.1 L786.0 326.0 L787.0 325.8 L788.0 325.6 L789.0 325.4 L790.0 325.3 L791.0 325.2 L792.0 325.0 L793.0 324.5 L794.0 323.6 L795.0 322.4 L796.0 320.8 L797.0 318.8 L798.0 316.4 L799.0 313.6 L800.0 310.4 L801.0 307.0 L802.0 303.3 L803.0 299.3 L804.0 295.1 L805.0 290.8 L806.0 286.3 L807.0 281.8 L808.0 277.3 L809.0 272.9 L810.0 268.7 L811.0 264.8 L812.0 261.2 L813.0 258.1 L814.0 255.4 L815.0 253.0 L816.0 251.0 L817.0 249.3 L818.0 247.8 L819.0 246.6 L820.0 245.6 L821.0 244.8 L822.0 244.0 L823.0 243.4 L824.0 242.7 L825.0 242.0 L826.0 241.3 L827.0 240.5 L828.0 239.7 L829.0 238.9 L830.0 238.1 L831.0 237.5 L832.0 237.0 L833.0 236.5 L834.0 236.1 L835.0 235.6 L836.0 235.0 L837.0 234.3 L838.0 233.3 L839.0 232.0 L840.0 230.4 L841.0 228.6 L842.0 226.3 L843.0 223.7 L844.0 220.7 L845.0 217.6 L846.0 214.3 L847.0 211.0 L848.0 207.9 L849.0 205.1 L850.0 202.7 L851.0 200.7 L852.0 199.3 L853.0 198.3 L854.0 197.9 L855.0 198.0 L856.0 198.6 L857.0 199.8 L858.0 201.3 L859.0 203.3 L860.0 205.4 L861.0 207.7 L862.0 210.0 L863.0 212.3 L864.0 214.5 L865.0 216.5 L866.0 218.3 L867.0 219.8 L868.0 221.0 L869.0 222.0 L870.0 222.6 L871.0 222.9 L872.0 222.9 L873.0 222.6 L874.0 222.1 L875.0 221.2 L876.0 220.1 L877.0 218.8 L878.0 217.2 L879.0 215.5 L880.0 213.6 L881.0 211.7 L882.0 209.9 L883.0 208.1 L884.0 206.6 L885.0 205.4 L886.0 204.4 L887.0 203.8 L888.0 203.5 L889.0 203.5 L890.0 203.8 L891.0 204.5 L892.0 205.3 L893.0 206.4 L894.0 207.6 L895.0 208.8 L896.0 210.2 L897.0 211.7 L898.0 213.4 L899.0 215.4 L900.0 217.5 L901.0 219.7 L902.0 221.9 L903.0 223.8 L904.0 225.5 L905.0 226.9 L906.0 227.9 L907.0 228.6 L908.0 228.8 L909.0 228.7 L910.0 228.1 L911.0 227.3 L912.0 226.2 L913.0 224.8 L914.0 223.4 L915.0 221.8 L916.0 220.1 L917.0 218.4 L918.0 216.5 L919.0 214.5 L920.0 212.3 L921.0 210.0 L922.0 207.5 L923.0 204.9 L924.0 202.1 L925.0 199.3 L926.0 196.6 L927.0 194.1 L928.0 191.9 L929.0 190.0 L930.0 188.6 L931.0 187.6 L932.0 187.1 L933.0 187.0 L934.0 187.3 L935.0 187.8 L936.0 188.5 L937.0 189.2 L938.0 190.0 L939.0 190.6 L940.0 191.1 L941.0 191.2 L942.0 190.9 L943.0 190.2 L944.0 188.9 L945.0 187.1 L946.0 184.6 L947.0 181.6 L948.0 177.9 L949.0 173.5 L950.0 168.6 L951.0 163.1 L952.0 157.1 L953.0 150.9 L954.0 144.6 L955.0 138.4 L956.0 132.4 L957.0 126.8 L958.0 121.6 L959.0 117.0 L960.0 113.1 L961.0 109.9 L962.0 107.5 L963.0 105.9 L964.0 104.9 L965.0 104.6 L966.0 104.8 L967.0 105.4 L968.0 106.3 L969.0 107.5 L970.0 108.9 L971.0 110.5 L972.0 112.2 L973.0 114.1 L974.0 116.1 L975.0 118.1 L976.0 120.3 L977.0 122.4 L978.0 124.6 L979.0 126.7 L980.0 128.8 L981.0 130.7 L982.0 132.6 L983.0 134.4 L984.0 136.0 L985.0 137.5 L986.0 138.8 L987.0 139.9 L988.0 140.9 L989.0 141.8 L990.0 142.7 L991.0 143.4 L992.0 144.0 L993.0 144.3 L994.0 144.3 L995.0 143.8 L996.0 142.7 L997.0 141.0 L998.0 138.8 L999.0 135.8 L1000.0 132.1 L1001.0 127.9 L1002.0 123.2 L1003.0 118.3 L1004.0 113.2 L1005.0 108.2 L1006.0 103.2 L1007.0 98.3 L1008.0 93.3 L1009.0 88.4 L1010.0 83.3 L1011.0 78.1 L1012.0 72.9 L1013.0 67.5 L1014.0 62.1 L1015.0 56.6 L1016.0 51.1 L1017.0 45.6 L1018.0 40.2 L1019.0 34.9 L1020.0 29.7 L1021.0 24.6 L1022.0 19.8 L1023.0 15.3 L1024.0 11.3 L1025.0 7.9 L1026.0 5.1 L1027.0 3.0 L1028.0 1.8 L1029.0 1.4 L1030.0 1.9 L1031.0 3.3 L1032.0 5.5 L1033.0 8.5 L1034.0 12.2 L1035.0 16.4 L1036.0 21.3 L1037.0 26.6 L1038.0 32.3 L1039.0 38.2 L1040.0 44.3 L1041.0 50.4" stroke="#000" stroke-width="4.4" stroke-dasharray="4.4 7"/>
<path d="M0.0 170.0 L1.1 170.6 L2.6 171.4 L4.3 172.3 L6.2 173.3 L8.2 174.4 L10.4 175.5 L12.6 176.7 L14.8 177.8 L17.0 179.0 L19.0 180.0 L20.8 180.9 L22.6 181.8 L24.5 182.7 L26.4 183.6 L28.3 184.4 L30.2 185.3 L32.1 186.2 L33.9 187.1 L35.8 188.1 L37.6 189.0 L39.4 190.0 L41.2 191.0 L42.9 192.1 L44.6 193.1 L46.3 194.2 L48.0 195.3 L49.6 196.4 L51.3 197.5 L52.9 198.6 L54.6 199.7 L56.3 200.9 L58.0 202.0 L59.7 203.1 L61.4 204.3 L63.2 205.4 L64.9 206.6 L66.6 207.8 L68.4 209.0 L70.1 210.1 L71.8 211.3 L73.6 212.4 L75.3 213.6 L77.0 214.7 L78.9 215.9 L80.9 217.2 L82.9 218.4 L84.9 219.7 L86.9 220.9 L88.8 222.1 L90.7 223.3 L92.5 224.4 L94.1 225.4 L95.6 226.4 L98.1 228.1 L100.0 229.6 L101.7 231.0 L103.3 232.3 L105.0 233.6 L106.8 234.9 L108.6 236.2 L110.4 237.4 L112.2 238.7 L114.0 240.0 L115.9 241.4 L117.8 242.8 L119.8 244.2 L121.8 245.7 L123.7 247.0 L125.5 248.2 L127.1 249.3 L128.7 250.4 L130.7 251.6 L133.0 253.0 L134.6 253.9 L136.3 254.8 L138.2 255.7 L140.1 256.7 L142.2 257.7 L144.2 258.7 L146.2 259.8 L148.2 260.9 L150.0 262.0 L151.8 263.1 L153.5 264.3 L155.1 265.5 L156.8 266.7 L158.4 267.9 L160.1 269.2 L161.7 270.4 L163.3 271.7 L165.0 273.0 L166.7 274.3 L168.3 275.6 L170.0 276.9 L171.7 278.3 L173.3 279.6 L175.0 281.0 L176.7 282.3 L178.3 283.7 L180.0 285.0 L181.7 286.3 L183.3 287.7 L185.0 289.1 L186.7 290.4 L188.3 291.8 L190.0 293.1 L191.7 294.5 L193.3 295.8 L195.0 297.0 L196.7 298.2 L198.3 299.4 L200.0 300.6 L201.7 301.7 L203.3 302.8 L205.0 303.9 L206.7 305.0 L208.3 306.0 L210.0 307.0 L211.9 308.1 L213.8 309.2 L215.6 310.2 L217.5 311.2 L219.4 312.2 L221.2 313.2 L223.1 314.1 L225.0 315.0 L226.9 315.9 L228.8 316.7 L230.6 317.5 L232.5 318.2 L234.4 319.0 L236.2 319.7 L238.1 320.4 L240.0 321.0 L242.1 321.7 L244.3 322.3 L246.4 322.9 L248.6 323.5 L250.7 324.0 L252.9 324.5 L255.0 325.0 L257.1 325.5 L259.1 326.0 L261.2 326.4 L263.2 326.9 L265.3 327.3 L267.6 327.7 L270.0 328.0 L271.8 328.2 L273.7 328.4 L275.6 328.6 L277.6 328.8 L279.7 329.0 L281.8 329.1 L283.8 329.2 L285.9 329.4 L288.0 329.4 L290.0 329.5 L292.0 329.5 L293.9 329.6 L295.8 329.5 L297.6 329.5 L299.5 329.5 L301.5 329.4 L303.4 329.3 L305.5 329.2 L307.7 329.1 L310.0 329.0 L311.9 328.9 L314.0 328.8 L316.2 328.6 L318.4 328.4 L320.8 328.3 L323.1 328.1 L325.5 327.9 L327.8 327.7 L330.0 327.5 L332.1 327.4 L334.1 327.2 L335.9 327.1 L337.5 327.0 L340.8 326.8 L343.2 326.8 L345.0 326.8 L346.8 326.7 L348.8 326.6 L351.1 326.3 L353.5 326.0 L355.8 325.6 L358.2 325.3 L360.5 325.0 L362.8 324.9 L365.1 324.8 L367.4 324.8 L369.7 324.8 L372.0 324.7 L374.3 324.6 L376.6 324.4 L379.0 324.2 L381.3 324.1 L383.7 324.0 L385.7 324.0 L387.8 324.0 L389.9 324.0 L392.0 324.0 L394.0 324.0 L396.0 324.0 L398.3 324.0 L400.4 323.9 L402.6 323.9 L404.8 323.8 L407.0 323.6 L408.9 323.4 L410.9 323.1 L413.0 322.8 L415.0 322.5 L417.0 322.2 L419.0 321.9 L421.4 321.7 L423.7 321.4 L426.0 321.3 L428.3 321.1 L430.7 321.0 L432.7 320.9 L434.7 320.9 L436.7 320.9 L438.8 320.9 L440.8 320.9 L442.8 321.0 L445.2 321.1 L447.6 321.3 L450.0 321.5 L452.4 321.7 L454.7 321.9 L457.0 322.1 L459.2 322.2 L461.5 322.3 L463.7 322.5 L466.0 322.7 L468.3 322.9 L470.7 323.2 L473.0 323.5 L475.4 323.8 L477.7 324.0 L480.0 324.2 L482.3 324.4 L484.5 324.5 L486.8 324.7 L489.0 324.9 L491.2 325.1 L493.4 325.3 L495.5 325.4 L497.7 325.7 L500.0 326.0 L502.0 326.3 L504.0 326.8 L506.0 327.2 L508.1 327.7 L510.1 328.2 L512.0 328.6 L514.2 329.1 L516.3 329.5 L518.4 329.9 L520.4 330.4 L522.5 331.0 L524.5 331.7 L526.5 332.6 L528.5 333.4 L530.5 334.3 L532.6 335.2 L534.7 336.0 L536.9 336.9 L539.2 337.7 L541.4 338.6 L543.5 339.4 L545.6 340.2 L547.6 341.0 L549.6 341.7 L551.6 342.5 L553.6 343.3 L555.6 344.1 L557.6 344.8 L559.6 345.6 L561.6 346.4 L563.6 347.3 L565.6 348.3 L567.5 349.4 L569.5 350.5 L571.5 351.7 L573.4 352.9 L575.3 354.1 L577.2 355.3 L579.1 356.6 L581.0 357.8 L582.9 359.0 L584.8 360.1 L586.7 361.2 L588.7 362.3 L590.6 363.4 L592.5 364.6 L594.4 365.8 L596.3 367.0 L598.1 368.3 L600.0 369.6 L601.9 370.8 L603.8 372.0 L605.7 373.3 L607.6 374.5 L609.5 375.7 L611.4 376.8 L613.4 377.9 L615.4 378.9 L617.4 379.9 L619.5 380.9 L621.5 381.9 L623.5 382.9 L625.5 384.0 L627.6 385.0 L629.6 386.0 L631.6 386.9 L633.6 387.8 L635.7 388.5 L637.8 389.3 L639.7 390.1 L641.6 390.9 L643.6 392.1 L645.4 393.3 L647.3 394.5 L649.5 395.7 L651.3 396.5 L653.4 397.2 L655.6 397.9 L657.8 398.6 L660.0 399.3 L662.0 400.0 L664.1 400.8 L666.1 401.5 L668.0 402.1 L670.0 402.8 L672.0 403.5 L674.1 404.2 L676.3 404.9 L678.6 405.5 L680.8 406.2 L683.0 407.0 L685.2 407.8 L687.3 408.6 L689.5 409.5 L691.6 410.5 L693.6 411.5 L695.6 412.7 L697.4 413.9 L699.3 415.3 L701.1 416.6 L703.0 417.8 L704.9 418.9 L706.7 420.0 L708.6 421.1 L710.5 422.1 L712.5 423.0 L714.6 423.9 L716.7 424.6 L718.8 425.4 L720.9 426.2 L723.0 427.0 L724.9 428.0 L726.8 429.0 L728.7 430.0 L730.6 431.0 L732.5 432.0 L734.5 432.9 L736.6 433.7 L738.7 434.5 L740.9 435.3 L743.0 436.0 L745.1 436.7 L747.3 437.4 L749.5 437.9 L751.7 438.4 L753.9 438.7 L756.2 438.7 L758.6 438.6 L760.9 438.3 L763.3 438.0 L765.6 437.7 L767.8 437.5 L770.0 437.3 L772.2 437.1 L774.4 436.9 L776.6 436.6 L778.9 436.3 L781.1 436.0 L783.4 435.7 L785.7 435.4 L788.0 435.0 L790.3 434.5 L792.7 434.0 L795.0 433.5 L797.4 432.9 L799.6 432.4 L801.8 431.9 L803.8 431.4 L805.9 430.9 L807.9 430.4 L810.0 429.7 L812.1 428.9 L814.3 428.0 L816.4 427.0 L818.5 426.0 L820.6 425.0 L822.6 424.0 L824.6 423.0 L826.6 422.0 L828.6 421.0 L830.5 420.0 L832.4 419.1 L834.3 418.2 L836.1 417.4 L838.0 416.5 L840.0 415.7 L842.1 414.9 L844.2 414.0 L846.4 413.2 L848.5 412.4 L850.6 411.5 L852.6 410.6 L854.5 409.6 L856.4 408.7 L858.3 407.8 L860.4 407.0 L862.6 406.3 L865.0 405.7 L867.4 405.2 L869.8 404.6 L872.0 404.0 L874.1 403.3 L876.1 402.7 L878.0 402.0 L880.0 401.2 L882.0 400.5 L884.1 399.7 L886.2 398.9 L888.3 398.0 L890.4 397.2 L892.5 396.4 L894.6 395.7 L896.7 395.0 L898.8 394.3 L900.9 393.7 L903.0 393.0 L905.1 392.3 L907.2 391.6 L909.3 390.9 L911.4 390.1 L913.5 389.4 L915.6 388.7 L917.7 387.9 L919.8 387.2 L921.9 386.4 L924.0 385.7 L926.0 385.0 L928.0 384.3 L930.0 383.7 L932.0 382.9 L933.9 382.0 L935.8 380.9 L937.6 379.7 L939.4 378.3 L941.2 377.0 L943.0 375.6 L944.9 374.2 L946.8 372.9 L948.8 371.5 L950.7 370.0 L952.6 368.6 L954.2 367.4 L955.7 366.1 L957.3 364.8 L958.9 363.5 L960.4 362.2 L962.0 361.0 L963.9 359.6 L965.8 358.3 L967.7 357.1 L969.6 355.8 L971.5 354.6 L973.4 353.4 L975.3 352.1 L977.2 350.9 L979.1 349.8 L981.0 348.7 L982.8 347.7 L984.6 346.8 L986.4 345.9 L988.2 345.0 L990.0 344.0 L991.9 342.9 L993.9 341.6 L995.9 340.4 L997.9 339.1 L999.8 337.8 L1001.7 336.6 L1003.5 335.3 L1005.3 334.1 L1007.1 332.8 L1009.0 331.5 L1010.9 330.2 L1012.9 328.8 L1014.8 327.4 L1016.8 326.0 L1018.7 324.6 L1020.5 323.1 L1022.4 321.6 L1024.1 320.1 L1025.9 318.5 L1027.7 317.0 L1029.5 315.5 L1031.3 314.0 L1033.0 312.5 L1034.8 311.0 L1036.5 309.5 L1038.3 307.9 L1040.3 306.1 L1042.2 304.5 L1043.8 303.0 L1044.9 302.0" stroke="#000" stroke-width="4" stroke-dasharray="4 7.7"/>
<path d="M0.0 155.0 L1.2 155.5 L2.7 156.2 L4.5 157.0 L6.6 157.9 L8.8 158.9 L11.0 159.9 L13.4 161.0 L15.7 162.0 L17.9 163.0 L20.0 164.0 L21.8 164.9 L23.7 165.7 L25.6 166.6 L27.5 167.5 L29.4 168.4 L31.2 169.3 L33.1 170.2 L34.9 171.0 L36.7 171.9 L38.4 172.7 L40.0 173.5 L42.1 174.5 L44.1 175.5 L46.0 176.5 L47.9 177.4 L49.7 178.3 L51.4 179.2 L53.2 180.1 L55.0 181.0 L57.1 182.1 L59.1 183.1 L61.1 184.2 L63.1 185.3 L65.0 186.4 L67.0 187.5 L69.0 188.7 L70.8 189.8 L72.5 190.9 L74.2 192.0 L76.0 193.2 L77.8 194.4 L79.5 195.6 L81.2 196.8 L83.0 198.0 L84.8 199.2 L86.6 200.5 L88.4 201.9 L90.2 203.2 L92.0 204.5 L93.8 205.7 L95.4 206.9 L97.0 208.0 L99.3 209.5 L101.3 210.9 L103.2 212.1 L105.1 213.3 L107.0 214.5 L108.9 215.8 L110.8 217.2 L112.7 218.5 L114.5 219.8 L116.4 221.0 L118.3 222.1 L120.2 223.2 L122.1 224.2 L124.0 225.2 L125.8 226.3 L127.5 227.5 L129.1 228.6 L130.7 229.9 L132.3 231.2 L134.0 232.6 L135.5 233.9 L137.1 235.3 L138.8 236.8 L140.4 238.3 L142.1 239.7 L143.7 241.0 L145.6 242.4 L147.5 243.6 L149.4 244.8 L151.2 245.9 L153.0 247.0 L154.8 248.1 L156.5 249.2 L158.1 250.3 L159.8 251.4 L161.5 252.5 L163.2 253.7 L164.8 254.9 L166.5 256.2 L168.2 257.5 L169.9 258.8 L171.7 260.2 L173.5 261.6 L175.3 263.1 L177.1 264.5 L179.0 266.0 L180.6 267.2 L182.3 268.5 L184.0 269.8 L185.6 271.1 L187.3 272.3 L188.8 273.5 L190.5 274.8 L192.1 276.1 L193.7 277.3 L195.3 278.5 L197.0 279.8 L198.8 281.2 L200.7 282.6 L202.7 284.1 L204.7 285.5 L206.6 287.0 L208.2 288.2 L209.7 289.4 L211.3 290.6 L212.9 291.8 L214.4 293.1 L216.0 294.5 L217.6 296.0 L219.2 297.6 L220.7 299.2 L222.3 300.9 L223.9 302.4 L225.5 303.9 L227.4 305.5 L229.4 306.9 L231.3 308.3 L233.2 309.7 L235.0 311.0 L236.7 312.4 L238.2 313.8 L239.7 315.1 L241.3 316.4 L243.0 317.5 L244.9 318.5 L246.8 319.3 L248.9 320.0 L250.9 320.7 L253.0 321.5 L255.1 322.3 L257.1 323.2 L259.2 324.1 L261.3 324.9 L263.4 325.7 L265.5 326.4 L267.5 327.0 L269.6 327.6 L271.8 328.2 L274.0 328.8 L276.0 329.4 L278.0 329.9 L280.1 330.5 L282.3 331.1 L284.4 331.6 L286.5 332.0 L288.5 332.3 L290.5 332.6 L292.5 332.8 L294.5 332.9 L296.7 333.0 L299.0 333.0 L300.9 333.0 L302.9 332.9 L305.0 332.8 L307.2 332.6 L309.4 332.5 L311.6 332.3 L313.7 332.1 L315.8 332.0 L318.2 331.9 L320.5 331.7 L322.9 331.6 L325.3 331.4 L327.5 331.3 L329.7 331.1 L331.7 331.0 L334.3 330.8 L336.6 330.6 L338.7 330.4 L340.8 330.2 L343.0 330.0 L345.2 329.8 L347.4 329.6 L349.6 329.4 L351.8 329.2 L354.0 329.0 L356.3 328.8 L358.6 328.6 L361.0 328.5 L363.4 328.3 L365.7 328.0 L368.0 327.6 L370.2 327.2 L372.5 326.8 L374.7 326.4 L377.0 326.0 L379.3 325.7 L381.7 325.5 L384.1 325.4 L386.4 325.2 L388.7 325.0 L390.9 324.7 L393.1 324.5 L395.2 324.2 L397.4 323.9 L399.6 323.6 L401.8 323.3 L404.1 322.9 L406.4 322.6 L408.7 322.3 L411.0 322.0 L413.3 321.8 L415.7 321.7 L418.0 321.6 L420.4 321.6 L422.8 321.4 L424.8 321.2 L426.9 321.0 L428.9 320.8 L430.9 320.5 L432.9 320.2 L434.9 320.0 L437.2 319.7 L439.3 319.4 L441.5 319.1 L443.6 318.8 L445.8 318.5 L448.0 318.1 L450.3 317.8 L452.5 317.4 L454.8 317.0 L457.0 316.8 L459.2 316.7 L461.4 316.6 L463.6 316.7 L465.8 316.7 L468.0 316.8 L470.3 316.9 L472.7 317.1 L475.1 317.3 L477.5 317.5 L479.8 317.7 L482.1 317.9 L484.3 318.0 L486.5 318.1 L488.7 318.3 L491.0 318.5 L493.3 318.8 L495.7 319.1 L498.1 319.5 L500.4 319.8 L502.8 320.0 L505.2 320.1 L507.5 320.0 L509.9 319.9 L512.3 319.9 L514.6 320.0 L516.9 320.2 L519.1 320.6 L521.4 320.9 L523.6 321.4 L525.9 321.8 L528.2 322.2 L530.6 322.7 L533.0 323.1 L535.4 323.7 L537.6 324.3 L539.7 325.0 L541.7 325.9 L543.7 326.8 L545.7 327.7 L547.7 328.5 L549.8 329.2 L552.0 329.9 L554.3 330.6 L556.5 331.2 L558.6 331.9 L560.7 332.6 L562.7 333.2 L564.7 333.9 L566.7 334.5 L568.7 335.2 L570.7 335.9 L572.7 336.6 L574.7 337.3 L576.7 338.0 L578.7 338.9 L580.7 339.9 L582.8 341.0 L584.8 342.1 L586.8 343.3 L588.8 344.5 L590.7 345.8 L592.5 347.1 L594.3 348.5 L596.1 349.8 L598.0 351.2 L599.6 352.3 L601.3 353.5 L603.0 354.6 L604.7 355.7 L606.4 356.8 L608.0 357.9 L609.9 359.1 L611.8 360.3 L613.6 361.5 L615.5 362.6 L617.3 363.8 L619.1 365.0 L621.0 366.1 L622.8 367.3 L624.7 368.4 L626.5 369.6 L628.3 370.8 L630.2 372.0 L632.0 373.2 L633.9 374.4 L635.8 375.5 L637.8 376.6 L639.8 377.6 L641.8 378.5 L643.8 379.5 L645.8 380.5 L647.8 381.5 L649.7 382.6 L651.6 383.6 L653.6 384.7 L655.6 385.6 L657.6 386.4 L659.6 387.1 L661.7 387.8 L663.9 388.5 L666.3 389.4 L668.3 390.2 L670.5 391.1 L672.8 392.0 L675.1 393.0 L677.3 394.0 L679.3 394.9 L681.0 395.7 L683.6 397.3 L685.2 398.7 L687.3 400.0 L689.2 400.7 L691.3 401.2 L693.5 401.8 L695.8 402.4 L697.8 403.0 L700.0 403.9 L702.1 404.8 L704.1 405.8 L706.3 407.0 L708.2 408.1 L710.2 409.3 L712.3 410.5 L714.4 411.8 L716.4 413.0 L718.4 414.2 L720.3 415.3 L722.2 416.5 L724.1 417.6 L726.0 418.8 L727.9 419.9 L729.8 421.1 L731.8 422.2 L733.7 423.4 L735.7 424.5 L737.7 425.6 L739.8 426.7 L741.9 427.8 L744.0 428.9 L746.0 430.0 L748.0 431.0 L749.9 432.1 L751.7 433.1 L753.6 434.1 L755.6 435.0 L757.6 435.9 L759.7 436.8 L761.8 437.6 L763.9 438.4 L766.0 439.0 L768.2 439.5 L770.3 440.0 L772.5 440.4 L774.8 440.6 L777.0 440.8 L779.3 440.8 L781.6 440.7 L783.9 440.5 L786.2 440.2 L788.5 440.0 L790.8 439.8 L793.1 439.5 L795.4 439.3 L797.7 439.0 L800.0 438.7 L802.4 438.4 L804.8 438.1 L807.2 437.7 L809.5 437.4 L811.8 437.0 L813.9 436.6 L816.0 436.3 L817.9 435.9 L819.9 435.5 L822.0 435.0 L824.2 434.5 L826.4 433.9 L828.6 433.3 L830.8 432.7 L833.0 432.0 L835.2 431.3 L837.3 430.5 L839.5 429.7 L841.6 428.9 L843.7 428.0 L845.7 427.1 L847.7 426.0 L849.6 425.0 L851.5 424.0 L853.5 423.0 L855.6 422.1 L857.7 421.3 L859.8 420.4 L861.9 419.6 L864.0 418.8 L866.0 418.0 L868.0 417.1 L870.0 416.2 L871.9 415.4 L874.0 414.6 L876.2 413.8 L878.4 413.1 L880.6 412.4 L882.8 411.7 L885.0 411.0 L887.1 410.3 L889.1 409.6 L891.0 408.9 L893.0 408.2 L895.0 407.5 L897.1 406.8 L899.1 406.1 L901.2 405.4 L903.3 404.7 L905.4 404.0 L907.5 403.3 L909.6 402.6 L911.7 401.9 L913.9 401.2 L916.0 400.5 L918.2 399.9 L920.3 399.3 L922.5 398.7 L924.7 398.0 L926.8 397.4 L928.9 396.7 L930.9 396.0 L932.9 395.3 L934.9 394.5 L937.0 393.8 L938.9 393.2 L940.8 392.6 L942.7 392.0 L944.7 391.3 L946.6 390.7 L948.4 390.0 L950.4 389.2 L952.4 388.3 L954.2 387.4 L956.1 386.4 L957.9 385.4 L959.7 384.2 L961.5 383.0 L963.3 381.7 L965.1 380.3 L967.0 379.0 L968.9 377.6 L970.9 376.2 L972.8 374.8 L974.8 373.4 L976.7 372.0 L978.5 370.6 L980.3 369.2 L982.1 367.7 L983.9 366.3 L985.8 365.0 L987.7 363.7 L989.7 362.4 L991.7 361.2 L993.7 360.0 L995.6 358.8 L997.4 357.6 L999.2 356.4 L1001.0 355.2 L1002.8 354.1 L1004.6 353.0 L1006.5 352.0 L1008.5 351.0 L1010.5 350.0 L1012.5 349.1 L1014.5 348.0 L1016.4 346.9 L1018.4 345.7 L1020.3 344.5 L1022.1 343.2 L1024.0 342.0 L1025.8 340.8 L1027.6 339.5 L1029.4 338.3 L1031.2 337.0 L1033.0 335.7 L1034.9 334.2 L1037.0 332.7 L1039.0 331.1 L1040.8 329.7 L1042.0 328.8" stroke="#ff0000" stroke-width="4" stroke-dasharray="4 7.7"/>
<path d="M5.5 155.0 L6.7 155.5 L8.2 156.2 L10.0 157.0 L12.1 157.9 L14.2 158.9 L16.5 159.9 L18.9 161.0 L21.2 162.0 L23.4 163.0 L25.5 164.0 L27.3 164.9 L29.2 165.7 L31.1 166.6 L33.0 167.5 L34.9 168.4 L36.7 169.3 L38.6 170.2 L40.4 171.0 L42.2 171.9 L43.9 172.7 L45.5 173.5 L47.6 174.5 L49.6 175.5 L51.5 176.5 L53.4 177.4 L55.2 178.3 L56.9 179.2 L58.7 180.1 L60.5 181.0 L62.6 182.1 L64.6 183.1 L66.6 184.2 L68.6 185.3 L70.5 186.4 L72.5 187.5 L74.5 188.7 L76.2 189.8 L78.0 190.9 L79.8 192.0 L81.5 193.2 L83.2 194.4 L85.0 195.6 L86.8 196.8 L88.5 198.0 L90.3 199.2 L92.1 200.5 L93.9 201.9 L95.8 203.2 L97.5 204.5 L99.3 205.7 L100.9 206.9 L102.5 208.0 L104.8 209.5 L106.8 210.9 L108.7 212.1 L110.6 213.3 L112.5 214.5 L114.4 215.8 L116.3 217.2 L118.2 218.5 L120.0 219.8 L121.9 221.0 L123.8 222.1 L125.7 223.2 L127.6 224.2 L129.5 225.2 L131.3 226.3 L133.0 227.5 L134.6 228.6 L136.2 229.9 L137.8 231.2 L139.5 232.6 L141.0 233.9 L142.6 235.3 L144.3 236.8 L145.9 238.3 L147.6 239.7 L149.2 241.0 L151.1 242.4 L153.0 243.6 L154.9 244.8 L156.7 245.9 L158.5 247.0 L160.3 248.1 L162.0 249.2 L163.6 250.3 L165.3 251.4 L167.0 252.5 L168.7 253.7 L170.3 254.9 L172.0 256.2 L173.7 257.5 L175.4 258.8 L177.2 260.2 L179.0 261.6 L180.8 263.1 L182.6 264.5 L184.5 266.0 L186.1 267.2 L187.8 268.5 L189.5 269.8 L191.1 271.1 L192.8 272.3 L194.3 273.5 L196.0 274.8 L197.6 276.1 L199.2 277.3 L200.8 278.5 L202.5 279.8 L204.3 281.2 L206.2 282.6 L208.2 284.1 L210.2 285.5 L212.1 287.0 L213.7 288.2 L215.2 289.4 L216.8 290.6 L218.4 291.8 L219.9 293.1 L221.5 294.5 L223.1 296.0 L224.7 297.6 L226.2 299.2 L227.8 300.9 L229.4 302.4 L231.0 303.9 L232.9 305.5 L234.9 306.9 L236.8 308.3 L238.7 309.7 L240.5 311.0 L242.2 312.4 L243.7 313.8 L245.2 315.1 L246.8 316.4 L248.5 317.5 L250.4 318.5 L252.3 319.3 L254.4 320.0 L256.4 320.7 L258.5 321.5 L260.6 322.3 L262.6 323.2 L264.7 324.1 L266.8 324.9 L268.9 325.7 L271.0 326.4 L273.0 327.0 L275.1 327.6 L277.3 328.2 L279.5 328.8 L281.5 329.4 L283.5 329.9 L285.6 330.5 L287.8 331.1 L289.9 331.6 L292.0 332.0 L294.0 332.3 L296.0 332.6 L298.0 332.8 L300.0 332.9 L302.2 333.0 L304.5 333.0 L306.4 333.0 L308.4 332.9 L310.5 332.8 L312.7 332.6 L314.9 332.5 L317.1 332.3 L319.2 332.1 L321.3 332.0 L323.7 331.9 L326.0 331.7 L328.4 331.6 L330.8 331.4 L333.0 331.3 L335.2 331.1 L337.2 331.0 L339.8 330.8 L342.1 330.6 L344.2 330.4 L346.3 330.2 L348.5 330.0 L350.7 329.8 L352.9 329.6 L355.1 329.4 L357.3 329.2 L359.5 329.0 L361.8 328.8 L364.1 328.6 L366.5 328.5 L368.9 328.3 L371.2 328.0 L373.5 327.6 L375.7 327.2 L378.0 326.8 L380.2 326.4 L382.5 326.0 L384.8 325.7 L387.2 325.5 L389.6 325.4 L391.9 325.2 L394.2 325.0 L396.4 324.7 L398.6 324.5 L400.7 324.2 L402.9 323.9 L405.1 323.6 L407.3 323.3 L409.6 322.9 L411.9 322.6 L414.2 322.3 L416.5 322.0 L418.8 321.8 L421.2 321.7 L423.5 321.6 L425.9 321.6 L428.3 321.4 L430.3 321.2 L432.4 321.0 L434.4 320.8 L436.4 320.5 L438.4 320.2 L440.4 320.0 L442.7 319.7 L444.8 319.4 L447.0 319.1 L449.1 318.8 L451.3 318.5 L453.5 318.1 L455.8 317.8 L458.0 317.4 L460.3 317.0 L462.5 316.8 L464.7 316.7 L466.9 316.6 L469.1 316.7 L471.3 316.7 L473.5 316.8 L475.8 316.9 L478.2 317.1 L480.6 317.3 L483.0 317.5 L485.3 317.7 L487.6 317.9 L489.8 318.0 L492.0 318.1 L494.2 318.3 L496.5 318.5 L498.8 318.8 L501.2 319.1 L503.6 319.5 L505.9 319.8 L508.3 320.0 L510.7 320.1 L513.0 320.0 L515.4 319.9 L517.8 319.9 L520.1 320.0 L522.4 320.2 L524.6 320.6 L526.9 320.9 L529.1 321.4 L531.4 321.8 L533.7 322.2 L536.1 322.7 L538.5 323.1 L540.9 323.7 L543.1 324.3 L545.2 325.0 L547.2 325.9 L549.2 326.8 L551.2 327.7 L553.2 328.5 L555.3 329.2 L557.5 329.9 L559.8 330.6 L562.0 331.2 L564.1 331.9 L566.2 332.6 L568.2 333.2 L570.2 333.9 L572.2 334.5 L574.2 335.2 L576.2 335.9 L578.2 336.6 L580.2 337.3 L582.2 338.0 L584.2 338.9 L586.2 339.9 L588.3 341.0 L590.3 342.1 L592.3 343.3 L594.3 344.5 L596.2 345.8 L598.0 347.1 L599.8 348.5 L601.6 349.8 L603.5 351.2 L605.1 352.3 L606.8 353.5 L608.5 354.6 L610.2 355.7 L611.9 356.8 L613.5 357.9 L615.4 359.1 L617.3 360.3 L619.1 361.5 L621.0 362.6 L622.8 363.8 L624.6 365.0 L626.5 366.1 L628.3 367.3 L630.2 368.4 L632.0 369.6 L633.8 370.8 L635.7 372.0 L637.5 373.2 L639.4 374.4 L641.3 375.5 L643.3 376.6 L645.3 377.6 L647.3 378.5 L649.3 379.5 L651.3 380.5 L653.3 381.5 L655.2 382.6 L657.1 383.6 L659.1 384.7 L661.1 385.6 L663.1 386.4 L665.1 387.1 L667.2 387.8 L669.4 388.5 L671.8 389.4 L673.8 390.2 L676.0 391.1 L678.3 392.0 L680.6 393.0 L682.8 394.0 L684.8 394.9 L686.5 395.7 L689.1 397.3 L690.7 398.7 L692.8 400.0 L694.7 400.7 L696.8 401.2 L699.0 401.8 L701.3 402.4 L703.3 403.0 L705.5 403.9 L707.6 404.8 L709.6 405.8 L711.8 407.0 L713.7 408.1 L715.7 409.3 L717.8 410.5 L719.9 411.8 L721.9 413.0 L723.9 414.2 L725.8 415.3 L727.7 416.5 L729.6 417.6 L731.5 418.8 L733.4 419.9 L735.3 421.1 L737.3 422.2 L739.2 423.4 L741.2 424.5 L743.2 425.6 L745.3 426.7 L747.4 427.8 L749.5 428.9 L751.5 430.0 L753.5 431.0 L755.4 432.1 L757.2 433.1 L759.1 434.1 L761.1 435.0 L763.1 435.9 L765.2 436.8 L767.3 437.6 L769.4 438.4 L771.5 439.0 L773.7 439.5 L775.8 440.0 L778.0 440.4 L780.3 440.6 L782.5 440.8 L784.8 440.8 L787.1 440.7 L789.4 440.5 L791.7 440.2 L794.0 440.0 L796.3 439.8 L798.6 439.5 L800.9 439.3 L803.2 439.0 L805.5 438.7 L807.9 438.4 L810.3 438.1 L812.7 437.7 L815.0 437.4 L817.3 437.0 L819.4 436.6 L821.5 436.3 L823.4 435.9 L825.4 435.5 L827.5 435.0 L829.7 434.5 L831.9 433.9 L834.1 433.3 L836.3 432.7 L838.5 432.0 L840.7 431.3 L842.8 430.5 L845.0 429.7 L847.1 428.9 L849.2 428.0 L851.2 427.1 L853.2 426.0 L855.1 425.0 L857.0 424.0 L859.0 423.0 L861.1 422.1 L863.2 421.3 L865.3 420.4 L867.4 419.6 L869.5 418.8 L871.5 418.0 L873.5 417.1 L875.5 416.2 L877.4 415.4 L879.5 414.6 L881.7 413.8 L883.9 413.1 L886.1 412.4 L888.3 411.7 L890.5 411.0 L892.6 410.3 L894.6 409.6 L896.5 408.9 L898.5 408.2 L900.5 407.5 L902.6 406.8 L904.6 406.1 L906.7 405.4 L908.8 404.7 L910.9 404.0 L913.0 403.3 L915.1 402.6 L917.2 401.9 L919.4 401.2 L921.5 400.5 L923.7 399.9 L925.8 399.3 L928.0 398.7 L930.2 398.0 L932.3 397.4 L934.4 396.7 L936.4 396.0 L938.4 395.3 L940.4 394.5 L942.5 393.8 L944.4 393.2 L946.3 392.6 L948.2 392.0 L950.2 391.3 L952.1 390.7 L953.9 390.0 L955.9 389.2 L957.9 388.3 L959.7 387.4 L961.6 386.4 L963.4 385.4 L965.2 384.2 L967.0 383.0 L968.8 381.7 L970.6 380.3 L972.5 379.0 L974.4 377.6 L976.4 376.2 L978.3 374.8 L980.3 373.4 L982.2 372.0 L984.0 370.6 L985.8 369.2 L987.6 367.7 L989.4 366.3 L991.3 365.0 L993.2 363.7 L995.2 362.4 L997.2 361.2 L999.2 360.0 L1001.1 358.8 L1002.9 357.6 L1004.7 356.4 L1006.5 355.2 L1008.3 354.1 L1010.1 353.0 L1012.0 352.0 L1014.0 351.0 L1016.0 350.0 L1018.0 349.1 L1020.0 348.0 L1021.9 346.9 L1023.9 345.7 L1025.8 344.5 L1027.6 343.2 L1029.5 342.0 L1031.3 340.8 L1033.1 339.5 L1034.9 338.3 L1036.7 337.0 L1038.5 335.7 L1040.4 334.2 L1042.5 332.7 L1044.5 331.1 L1046.3 329.7 L1047.5 328.8" stroke="#00b050" stroke-width="3.3" stroke-dasharray="3.5 4.9"/>
</g>
<g stroke="#000" stroke-width="3">
<line x1="0" y1="157" x2="1121.5" y2="516.5"/>
<line x1="396" y1="548" x2="824" y2="408"/>
<line x1="531.3" y1="516.7" x2="781" y2="347.4"/>
</g>
<g fill="#000" shape-rendering="crispEdges"><rect x="530" y="0" width="2" height="557"/><rect x="638" y="0" width="2" height="557"/></g>
<rect x="524" y="0" width="48.5" height="0.9" fill="#f26a36"/><rect x="577" y="0" width="80" height="0.9" fill="#1aa257"/>
<circle cx="530.7" cy="261.4" r="3.4" fill="#8e9292"/>
<g shape-rendering="crispEdges"><line x1="0" y1="33.5" x2="1146" y2="33.5" stroke="#009640" stroke-width="1"/><line x1="0" y1="39.5" x2="1146" y2="39.5" stroke="#f05a22" stroke-width="1"/></g>
<g shape-rendering="crispEdges" stroke="#000" stroke-width="1"><line x1="0" y1="556.5" x2="1147" y2="556.5"/><line x1="1146.5" y1="0" x2="1146.5" y2="557"/></g>
<g font-family="'Liberation Sans', sans-serif" font-size="10" fill="#000" stroke="#000" stroke-width="0.25"><rect x="1146" y="6" width="4" height="1" fill="#000"/><text x="1150.3" y="11.1" textLength="33" lengthAdjust="spacingAndGlyphs">1.39700</text><rect x="1146" y="30" width="4" height="1" fill="#000"/><text x="1150.3" y="35.1" textLength="33" lengthAdjust="spacingAndGlyphs">1.39675</text><rect x="1146" y="53" width="4" height="1" fill="#000"/><text x="1150.3" y="58.1" textLength="33" lengthAdjust="spacingAndGlyphs">1.39650</text><rect x="1146" y="77" width="4" height="1" fill="#000"/><text x="1150.3" y="82.1" textLength="33" lengthAdjust="spacingAndGlyphs">1.39625</text><rect x="1146" y="100" width="4" height="1" fill="#000"/><text x="1150.3" y="105.1" textLength="33" lengthAdjust="spacingAndGlyphs">1.39600</text><rect x="1146" y="124" width="4" height="1" fill="#000"/><text x="1150.3" y="129.1" textLength="33" lengthAdjust="spacingAndGlyphs">1.39575</text><rect x="1146" y="147" width="4" height="1" fill="#000"/><text x="1150.3" y="152.1" textLength="33" lengthAdjust="spacingAndGlyphs">1.39550</text><rect x="1146" y="171" width="4" height="1" fill="#000"/><text x="1150.3" y="176.1" textLength="33" lengthAdjust="spacingAndGlyphs">1.39525</text><rect x="1146" y="194" width="4" height="1" fill="#000"/><text x="1150.3" y="199.1" textLength="33" lengthAdjust="spacingAndGlyphs">1.39500</text><rect x="1146" y="218" width="4" height="1" fill="#000"/><text x="1150.3" y="223.1" textLength="33" lengthAdjust="spacingAndGlyphs">1.39475</text><rect x="1146" y="241" width="4" height="1" fill="#000"/><text x="1150.3" y="246.1" textLength="33" lengthAdjust="spacingAndGlyphs">1.39450</text><rect x="1146" y="265" width="4" height="1" fill="#000"/><text x="1150.3" y="270.1" textLength="33" lengthAdjust="spacingAndGlyphs">1.39425</text><rect x="1146" y="288" width="4" height="1" fill="#000"/><text x="1150.3" y="293.1" textLength="33" lengthAdjust="spacingAndGlyphs">1.39400</text><rect x="1146" y="312" width="4" height="1" fill="#000"/><text x="1150.3" y="317.1" textLength="33" lengthAdjust="spacingAndGlyphs">1.39375</text><rect x="1146" y="335" width="4" height="1" fill="#000"/><text x="1150.3" y="340.1" textLength="33" lengthAdjust="spacingAndGlyphs">1.39350</text><rect x="1146" y="359" width="4" height="1" fill="#000"/><text x="1150.3" y="364.1" textLength="33" lengthAdjust="spacingAndGlyphs">1.39325</text><rect x="1146" y="382" width="4" height="1" fill="#000"/><text x="1150.3" y="387.1" textLength="33" lengthAdjust="spacingAndGlyphs">1.39300</text><rect x="1146" y="406" width="4" height="1" fill="#000"/><text x="1150.3" y="411.1" textLength="33" lengthAdjust="spacingAndGlyphs">1.39275</text><rect x="1146" y="429" width="4" height="1" fill="#000"/><text x="1150.3" y="434.1" textLength="33" lengthAdjust="spacingAndGlyphs">1.39250</text><rect x="1146" y="453" width="4" height="1" fill="#000"/><text x="1150.3" y="458.1" textLength="33" lengthAdjust="spacingAndGlyphs">1.39225</text><rect x="1146" y="476" width="4" height="1" fill="#000"/><text x="1150.3" y="481.1" textLength="33" lengthAdjust="spacingAndGlyphs">1.39200</text><rect x="1146" y="500" width="4" height="1" fill="#000"/><text x="1150.3" y="505.1" textLength="33" lengthAdjust="spacingAndGlyphs">1.39175</text><rect x="1146" y="524" width="4" height="1" fill="#000"/><text x="1150.3" y="529.1" textLength="33" lengthAdjust="spacingAndGlyphs">1.39150</text><rect x="1146" y="547" width="4" height="1" fill="#000"/><text x="1150.3" y="552.1" textLength="33" lengthAdjust="spacingAndGlyphs">1.39125</text><rect x="116" y="556" width="1" height="4" fill="#000"/><text x="116.5" y="569" textLength="25" lengthAdjust="spacingAndGlyphs">09:23</text><rect x="180" y="556" width="1" height="4" fill="#000"/><text x="180.5" y="569" textLength="25" lengthAdjust="spacingAndGlyphs">09:28</text><rect x="244" y="556" width="1" height="4" fill="#000"/><text x="244.5" y="569" textLength="25" lengthAdjust="spacingAndGlyphs">09:31</text><rect x="308" y="556" width="1" height="4" fill="#000"/><text x="308.5" y="569" textLength="25" lengthAdjust="spacingAndGlyphs">09:36</text><rect x="372" y="556" width="1" height="4" fill="#000"/><text x="372.5" y="569" textLength="25" lengthAdjust="spacingAndGlyphs">09:41</text><rect x="436" y="556" width="1" height="4" fill="#000"/><text x="436.5" y="569" textLength="25" lengthAdjust="spacingAndGlyphs">09:48</text><rect x="500" y="556" width="1" height="4" fill="#000"/><text x="500.5" y="569" textLength="25" lengthAdjust="spacingAndGlyphs">09:54</text><rect x="564" y="556" width="1" height="4" fill="#000"/><text x="564.5" y="569" textLength="25" lengthAdjust="spacingAndGlyphs">10:00</text><rect x="628" y="556" width="1" height="4" fill="#000"/><text x="628.5" y="569" textLength="25" lengthAdjust="spacingAndGlyphs">10:05</text><rect x="692" y="556" width="1" height="4" fill="#000"/><text x="692.5" y="569" textLength="25" lengthAdjust="spacingAndGlyphs">10:16</text><rect x="756" y="556" width="1" height="4" fill="#000"/><text x="756.5" y="569" textLength="25" lengthAdjust="spacingAndGlyphs">10:22</text><rect x="820" y="556" width="1" height="4" fill="#000"/><text x="820.5" y="569" textLength="25" lengthAdjust="spacingAndGlyphs">10:30</text><rect x="884" y="556" width="1" height="4" fill="#000"/><text x="884.5" y="569" textLength="25" lengthAdjust="spacingAndGlyphs">10:38</text><rect x="948" y="556" width="1" height="4" fill="#000"/><text x="948.5" y="569" textLength="25" lengthAdjust="spacingAndGlyphs">10:46</text><rect x="1012" y="556" width="1" height="4" fill="#000"/><text x="1012.5" y="569" textLength="25" lengthAdjust="spacingAndGlyphs">10:51</text><rect x="1076" y="556" width="1" height="4" fill="#000"/><text x="1076.5" y="569" textLength="25" lengthAdjust="spacingAndGlyphs">10:55</text><rect x="1140" y="556" width="1" height="4" fill="#000"/><text x="1140.5" y="569" textLength="25" lengthAdjust="spacingAndGlyphs">10:58</text><text x="2.5" y="569" textLength="78" lengthAdjust="spacingAndGlyphs">Mar 2016, UTC+0</text></g>
<path d="M1135.5 0 V70.5 H1131" fill="none" stroke="#000" stroke-width="1" shape-rendering="crispEdges"/>
<text transform="translate(1132.2,38.3) rotate(-90)" font-family="'Liberation Sans', sans-serif" font-size="10" fill="#000" stroke="#000" stroke-width="0.2" textLength="29.5" lengthAdjust="spacingAndGlyphs">10 pips</text>
<path d="M1141.9 33.375 L1147.1 27.0 H1184.7 L1186.9 29.2 V37.55 L1184.7 39.75 H1147.1 Z" fill="#009640"/><text x="1148.2" y="36.9" font-family="'Liberation Sans', sans-serif" font-size="10" fill="#fff" stroke="#fff" stroke-width="0.25" textLength="33" lengthAdjust="spacingAndGlyphs">1.39672</text>
<path d="M1141.9 39.475 L1147.1 33.1 H1184.7 L1186.9 35.300000000000004 V43.65 L1184.7 45.85 H1147.1 Z" fill="#f05a22"/><text x="1148.2" y="43.0" font-family="'Liberation Sans', sans-serif" font-size="10" fill="#fff" stroke="#fff" stroke-width="0.25" textLength="33" lengthAdjust="spacingAndGlyphs">1.39665</text>
<rect x="486.0" y="557" width="90" height="14" rx="2.5" fill="#000"/><text x="493.8" y="568" font-family="'Liberation Sans', sans-serif" font-size="10" fill="#fff" stroke="#fff" stroke-width="0.2" textLength="75.5" lengthAdjust="spacingAndGlyphs">02/03/2016 09:58</text>
<rect x="593.8" y="557" width="90" height="14" rx="2.5" fill="#000"/><text x="601.6" y="568" font-family="'Liberation Sans', sans-serif" font-size="10" fill="#fff" stroke="#fff" stroke-width="0.2" textLength="75.5" lengthAdjust="spacingAndGlyphs">02/03/2016 10:09</text>
<path d="M1037 548.5 H1045.3 L1050.1 543.6 L1055.2 548.5 H1063 Q1064.5 548.5 1064.5 550 V558.8 Q1064.5 560.3 1063 560.3 H1037 Q1035.5 560.3 1035.5 558.8 V550 Q1035.5 548.5 1037 548.5 Z" fill="#fff" stroke="#000" stroke-width="1.2"/>
<text x="1047.7" y="558.1" font-family="'Liberation Sans', sans-serif" font-size="10" fill="#000" stroke="#000" stroke-width="0.2">2</text>
</svg>
</body></html>
